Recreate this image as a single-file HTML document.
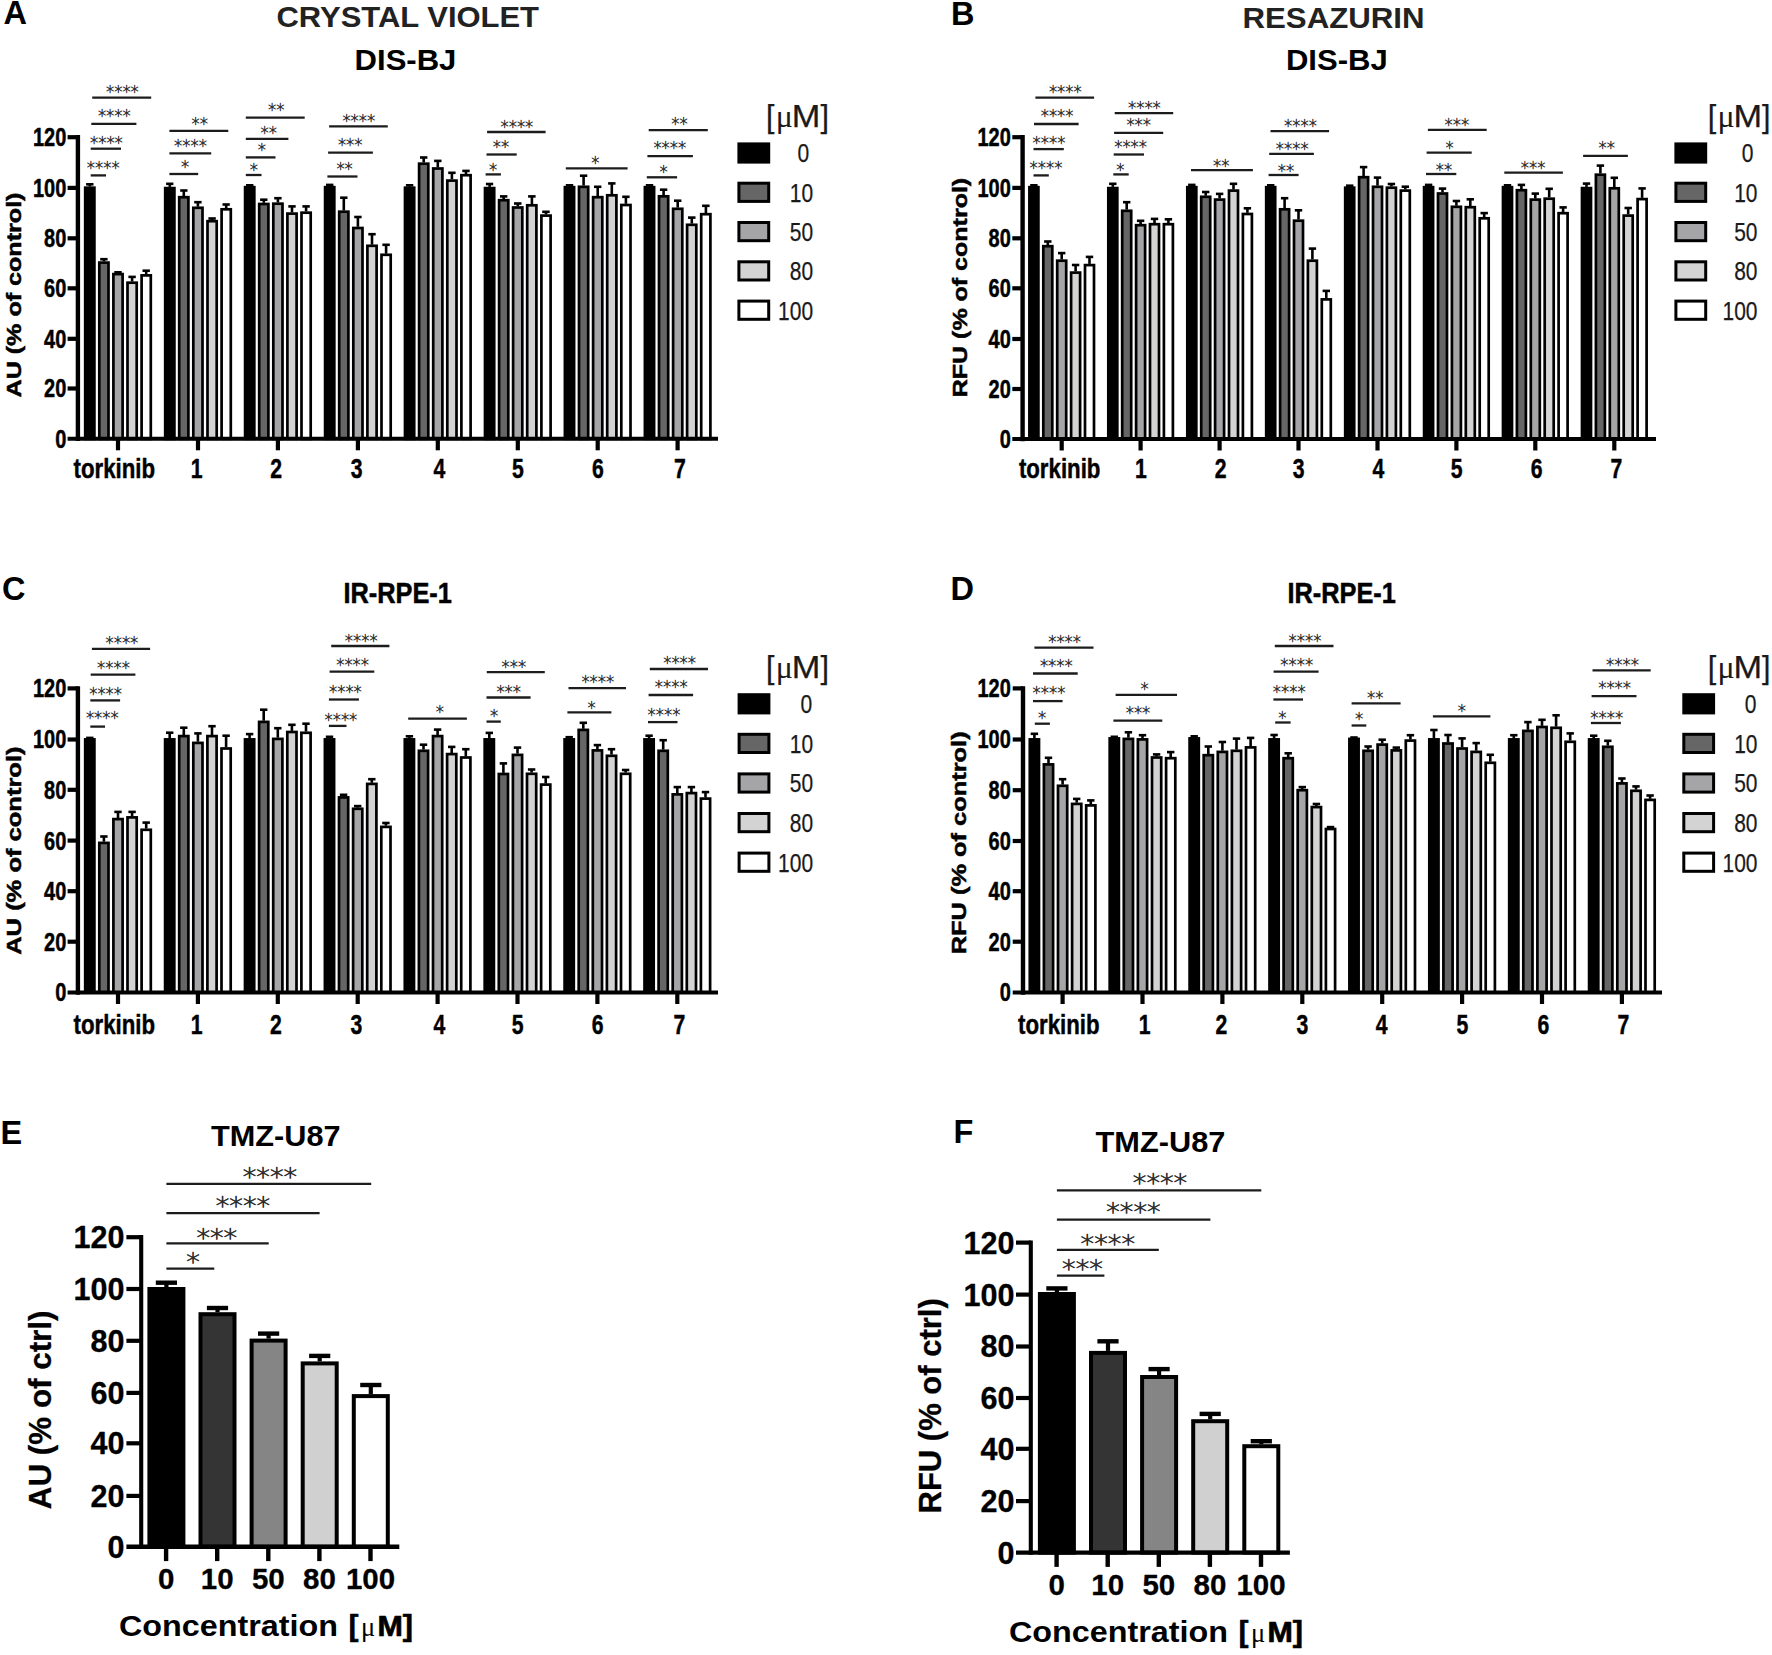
<!DOCTYPE html>
<html lang="en"><head><meta charset="utf-8"><title>Figure</title>
<style>
html,body{margin:0;padding:0;background:#fff;}
svg{display:block;font-family:"Liberation Sans",sans-serif;}
</style></head>
<body>
<svg width="1772" height="1655" viewBox="0 0 1772 1655">
<rect x="0" y="0" width="1772" height="1655" fill="#ffffff"/>
<line x1="89.8" y1="186.5" x2="89.8" y2="184.3" stroke="#000" stroke-width="2.6"/>
<line x1="86.1" y1="184.3" x2="93.5" y2="184.3" stroke="#000" stroke-width="2.6"/>
<rect x="85.2" y="187.7" width="9.2" height="251.2" fill="#000000" stroke="#000" stroke-width="2.7"/>
<line x1="103.9" y1="261.4" x2="103.9" y2="259.2" stroke="#000" stroke-width="2.6"/>
<line x1="100.2" y1="259.2" x2="107.6" y2="259.2" stroke="#000" stroke-width="2.6"/>
<rect x="99.3" y="262.6" width="9.2" height="176.3" fill="#666666" stroke="#000" stroke-width="2.7"/>
<line x1="118.0" y1="272.9" x2="118.0" y2="272.3" stroke="#000" stroke-width="2.6"/>
<line x1="114.3" y1="272.3" x2="121.7" y2="272.3" stroke="#000" stroke-width="2.6"/>
<rect x="113.4" y="274.1" width="9.2" height="164.8" fill="#a5a5a8" stroke="#000" stroke-width="2.7"/>
<line x1="132.1" y1="281.5" x2="132.1" y2="276.9" stroke="#000" stroke-width="2.6"/>
<line x1="128.4" y1="276.9" x2="135.8" y2="276.9" stroke="#000" stroke-width="2.6"/>
<rect x="127.5" y="282.7" width="9.2" height="156.2" fill="#d3d3d3" stroke="#000" stroke-width="2.7"/>
<line x1="146.2" y1="274.2" x2="146.2" y2="270.7" stroke="#000" stroke-width="2.6"/>
<line x1="142.5" y1="270.7" x2="149.9" y2="270.7" stroke="#000" stroke-width="2.6"/>
<rect x="141.6" y="275.4" width="9.2" height="163.5" fill="#ffffff" stroke="#000" stroke-width="2.7"/>
<line x1="169.8" y1="186.9" x2="169.8" y2="183.8" stroke="#000" stroke-width="2.6"/>
<line x1="166.1" y1="183.8" x2="173.4" y2="183.8" stroke="#000" stroke-width="2.6"/>
<rect x="165.2" y="188.1" width="9.2" height="250.8" fill="#000000" stroke="#000" stroke-width="2.7"/>
<line x1="183.8" y1="196.1" x2="183.8" y2="190.5" stroke="#000" stroke-width="2.6"/>
<line x1="180.2" y1="190.5" x2="187.5" y2="190.5" stroke="#000" stroke-width="2.6"/>
<rect x="179.2" y="197.2" width="9.2" height="241.6" fill="#666666" stroke="#000" stroke-width="2.7"/>
<line x1="197.9" y1="206.7" x2="197.9" y2="202.2" stroke="#000" stroke-width="2.6"/>
<line x1="194.2" y1="202.2" x2="201.6" y2="202.2" stroke="#000" stroke-width="2.6"/>
<rect x="193.3" y="207.8" width="9.2" height="231.0" fill="#a5a5a8" stroke="#000" stroke-width="2.7"/>
<line x1="212.1" y1="220.1" x2="212.1" y2="218.5" stroke="#000" stroke-width="2.6"/>
<line x1="208.4" y1="218.5" x2="215.8" y2="218.5" stroke="#000" stroke-width="2.6"/>
<rect x="207.5" y="221.2" width="9.2" height="217.6" fill="#d3d3d3" stroke="#000" stroke-width="2.7"/>
<line x1="226.2" y1="208.2" x2="226.2" y2="204.5" stroke="#000" stroke-width="2.6"/>
<line x1="222.5" y1="204.5" x2="229.8" y2="204.5" stroke="#000" stroke-width="2.6"/>
<rect x="221.6" y="209.3" width="9.2" height="229.5" fill="#ffffff" stroke="#000" stroke-width="2.7"/>
<line x1="249.7" y1="186.1" x2="249.7" y2="185.3" stroke="#000" stroke-width="2.6"/>
<line x1="246.0" y1="185.3" x2="253.4" y2="185.3" stroke="#000" stroke-width="2.6"/>
<rect x="245.1" y="187.2" width="9.2" height="251.6" fill="#000000" stroke="#000" stroke-width="2.7"/>
<line x1="263.8" y1="202.8" x2="263.8" y2="199.7" stroke="#000" stroke-width="2.6"/>
<line x1="260.1" y1="199.7" x2="267.5" y2="199.7" stroke="#000" stroke-width="2.6"/>
<rect x="259.2" y="204.0" width="9.2" height="234.8" fill="#666666" stroke="#000" stroke-width="2.7"/>
<line x1="277.9" y1="202.5" x2="277.9" y2="198.2" stroke="#000" stroke-width="2.6"/>
<line x1="274.2" y1="198.2" x2="281.6" y2="198.2" stroke="#000" stroke-width="2.6"/>
<rect x="273.3" y="203.7" width="9.2" height="235.2" fill="#a5a5a8" stroke="#000" stroke-width="2.7"/>
<line x1="292.0" y1="212.4" x2="292.0" y2="206.4" stroke="#000" stroke-width="2.6"/>
<line x1="288.3" y1="206.4" x2="295.7" y2="206.4" stroke="#000" stroke-width="2.6"/>
<rect x="287.4" y="213.6" width="9.2" height="225.2" fill="#d3d3d3" stroke="#000" stroke-width="2.7"/>
<line x1="306.1" y1="211.5" x2="306.1" y2="206.4" stroke="#000" stroke-width="2.6"/>
<line x1="302.4" y1="206.4" x2="309.8" y2="206.4" stroke="#000" stroke-width="2.6"/>
<rect x="301.5" y="212.7" width="9.2" height="226.2" fill="#ffffff" stroke="#000" stroke-width="2.7"/>
<line x1="329.7" y1="186.1" x2="329.7" y2="184.9" stroke="#000" stroke-width="2.6"/>
<line x1="326.0" y1="184.9" x2="333.4" y2="184.9" stroke="#000" stroke-width="2.6"/>
<rect x="325.1" y="187.2" width="9.2" height="251.6" fill="#000000" stroke="#000" stroke-width="2.7"/>
<line x1="343.8" y1="210.5" x2="343.8" y2="197.7" stroke="#000" stroke-width="2.6"/>
<line x1="340.1" y1="197.7" x2="347.5" y2="197.7" stroke="#000" stroke-width="2.6"/>
<rect x="339.2" y="211.7" width="9.2" height="227.2" fill="#666666" stroke="#000" stroke-width="2.7"/>
<line x1="357.9" y1="226.8" x2="357.9" y2="217.0" stroke="#000" stroke-width="2.6"/>
<line x1="354.2" y1="217.0" x2="361.6" y2="217.0" stroke="#000" stroke-width="2.6"/>
<rect x="353.3" y="228.0" width="9.2" height="210.8" fill="#a5a5a8" stroke="#000" stroke-width="2.7"/>
<line x1="372.0" y1="244.7" x2="372.0" y2="234.2" stroke="#000" stroke-width="2.6"/>
<line x1="368.3" y1="234.2" x2="375.7" y2="234.2" stroke="#000" stroke-width="2.6"/>
<rect x="367.4" y="245.8" width="9.2" height="193.0" fill="#d3d3d3" stroke="#000" stroke-width="2.7"/>
<line x1="386.1" y1="253.7" x2="386.1" y2="244.8" stroke="#000" stroke-width="2.6"/>
<line x1="382.4" y1="244.8" x2="389.8" y2="244.8" stroke="#000" stroke-width="2.6"/>
<rect x="381.5" y="254.8" width="9.2" height="184.0" fill="#ffffff" stroke="#000" stroke-width="2.7"/>
<line x1="409.6" y1="186.5" x2="409.6" y2="185.3" stroke="#000" stroke-width="2.6"/>
<line x1="405.9" y1="185.3" x2="413.3" y2="185.3" stroke="#000" stroke-width="2.6"/>
<rect x="405.0" y="187.7" width="9.2" height="251.2" fill="#000000" stroke="#000" stroke-width="2.7"/>
<line x1="423.7" y1="162.5" x2="423.7" y2="157.5" stroke="#000" stroke-width="2.6"/>
<line x1="420.0" y1="157.5" x2="427.4" y2="157.5" stroke="#000" stroke-width="2.6"/>
<rect x="419.1" y="163.7" width="9.2" height="275.1" fill="#666666" stroke="#000" stroke-width="2.7"/>
<line x1="437.8" y1="167.3" x2="437.8" y2="160.9" stroke="#000" stroke-width="2.6"/>
<line x1="434.1" y1="160.9" x2="441.5" y2="160.9" stroke="#000" stroke-width="2.6"/>
<rect x="433.2" y="168.5" width="9.2" height="270.3" fill="#a5a5a8" stroke="#000" stroke-width="2.7"/>
<line x1="451.9" y1="179.4" x2="451.9" y2="172.8" stroke="#000" stroke-width="2.6"/>
<line x1="448.2" y1="172.8" x2="455.6" y2="172.8" stroke="#000" stroke-width="2.6"/>
<rect x="447.3" y="180.6" width="9.2" height="258.2" fill="#d3d3d3" stroke="#000" stroke-width="2.7"/>
<line x1="466.0" y1="174.0" x2="466.0" y2="170.9" stroke="#000" stroke-width="2.6"/>
<line x1="462.3" y1="170.9" x2="469.7" y2="170.9" stroke="#000" stroke-width="2.6"/>
<rect x="461.4" y="175.2" width="9.2" height="263.6" fill="#ffffff" stroke="#000" stroke-width="2.7"/>
<line x1="489.6" y1="186.9" x2="489.6" y2="184.0" stroke="#000" stroke-width="2.6"/>
<line x1="485.9" y1="184.0" x2="493.2" y2="184.0" stroke="#000" stroke-width="2.6"/>
<rect x="485.0" y="188.1" width="9.2" height="250.8" fill="#000000" stroke="#000" stroke-width="2.7"/>
<line x1="503.7" y1="199.0" x2="503.7" y2="196.4" stroke="#000" stroke-width="2.6"/>
<line x1="500.0" y1="196.4" x2="507.4" y2="196.4" stroke="#000" stroke-width="2.6"/>
<rect x="499.1" y="200.2" width="9.2" height="238.7" fill="#666666" stroke="#000" stroke-width="2.7"/>
<line x1="517.8" y1="206.3" x2="517.8" y2="203.5" stroke="#000" stroke-width="2.6"/>
<line x1="514.0" y1="203.5" x2="521.5" y2="203.5" stroke="#000" stroke-width="2.6"/>
<rect x="513.1" y="207.5" width="9.2" height="231.3" fill="#a5a5a8" stroke="#000" stroke-width="2.7"/>
<line x1="531.9" y1="204.2" x2="531.9" y2="196.4" stroke="#000" stroke-width="2.6"/>
<line x1="528.1" y1="196.4" x2="535.6" y2="196.4" stroke="#000" stroke-width="2.6"/>
<rect x="527.2" y="205.3" width="9.2" height="233.5" fill="#d3d3d3" stroke="#000" stroke-width="2.7"/>
<line x1="546.0" y1="214.4" x2="546.0" y2="211.8" stroke="#000" stroke-width="2.6"/>
<line x1="542.2" y1="211.8" x2="549.7" y2="211.8" stroke="#000" stroke-width="2.6"/>
<rect x="541.4" y="215.6" width="9.2" height="223.2" fill="#ffffff" stroke="#000" stroke-width="2.7"/>
<line x1="569.5" y1="186.1" x2="569.5" y2="185.3" stroke="#000" stroke-width="2.6"/>
<line x1="565.8" y1="185.3" x2="573.2" y2="185.3" stroke="#000" stroke-width="2.6"/>
<rect x="564.9" y="187.2" width="9.2" height="251.6" fill="#000000" stroke="#000" stroke-width="2.7"/>
<line x1="583.6" y1="185.6" x2="583.6" y2="175.7" stroke="#000" stroke-width="2.6"/>
<line x1="579.9" y1="175.7" x2="587.3" y2="175.7" stroke="#000" stroke-width="2.6"/>
<rect x="579.0" y="186.8" width="9.2" height="252.1" fill="#666666" stroke="#000" stroke-width="2.7"/>
<line x1="597.7" y1="196.1" x2="597.7" y2="186.8" stroke="#000" stroke-width="2.6"/>
<line x1="594.0" y1="186.8" x2="601.4" y2="186.8" stroke="#000" stroke-width="2.6"/>
<rect x="593.1" y="197.2" width="9.2" height="241.6" fill="#a5a5a8" stroke="#000" stroke-width="2.7"/>
<line x1="611.8" y1="194.2" x2="611.8" y2="183.4" stroke="#000" stroke-width="2.6"/>
<line x1="608.1" y1="183.4" x2="615.5" y2="183.4" stroke="#000" stroke-width="2.6"/>
<rect x="607.2" y="195.3" width="9.2" height="243.5" fill="#d3d3d3" stroke="#000" stroke-width="2.7"/>
<line x1="625.9" y1="203.8" x2="625.9" y2="196.8" stroke="#000" stroke-width="2.6"/>
<line x1="622.2" y1="196.8" x2="629.6" y2="196.8" stroke="#000" stroke-width="2.6"/>
<rect x="621.3" y="205.0" width="9.2" height="233.8" fill="#ffffff" stroke="#000" stroke-width="2.7"/>
<line x1="649.5" y1="186.1" x2="649.5" y2="185.3" stroke="#000" stroke-width="2.6"/>
<line x1="645.8" y1="185.3" x2="653.2" y2="185.3" stroke="#000" stroke-width="2.6"/>
<rect x="644.9" y="187.2" width="9.2" height="251.6" fill="#000000" stroke="#000" stroke-width="2.7"/>
<line x1="663.6" y1="195.2" x2="663.6" y2="189.7" stroke="#000" stroke-width="2.6"/>
<line x1="659.9" y1="189.7" x2="667.3" y2="189.7" stroke="#000" stroke-width="2.6"/>
<rect x="659.0" y="196.3" width="9.2" height="242.5" fill="#666666" stroke="#000" stroke-width="2.7"/>
<line x1="677.7" y1="207.6" x2="677.7" y2="200.7" stroke="#000" stroke-width="2.6"/>
<line x1="674.0" y1="200.7" x2="681.4" y2="200.7" stroke="#000" stroke-width="2.6"/>
<rect x="673.1" y="208.8" width="9.2" height="230.1" fill="#a5a5a8" stroke="#000" stroke-width="2.7"/>
<line x1="691.8" y1="223.6" x2="691.8" y2="217.6" stroke="#000" stroke-width="2.6"/>
<line x1="688.0" y1="217.6" x2="695.5" y2="217.6" stroke="#000" stroke-width="2.6"/>
<rect x="687.1" y="224.8" width="9.2" height="214.1" fill="#d3d3d3" stroke="#000" stroke-width="2.7"/>
<line x1="705.9" y1="213.0" x2="705.9" y2="205.8" stroke="#000" stroke-width="2.6"/>
<line x1="702.1" y1="205.8" x2="709.6" y2="205.8" stroke="#000" stroke-width="2.6"/>
<rect x="701.2" y="214.2" width="9.2" height="224.7" fill="#ffffff" stroke="#000" stroke-width="2.7"/>
<line x1="77.9" y1="135.0" x2="77.9" y2="441.0" stroke="#000" stroke-width="4.4"/>
<line x1="67.6" y1="438.8" x2="718.0" y2="438.8" stroke="#000" stroke-width="4.1"/>
<text x="55.2" y="447.7" font-size="25.5" font-weight="bold" fill="#000" text-anchor="start" stroke="#000" stroke-width="0.5" stroke-linejoin="round" textLength="11.1" lengthAdjust="spacingAndGlyphs" >0</text>
<line x1="67.6" y1="388.5" x2="77.9" y2="388.5" stroke="#000" stroke-width="4.2"/>
<text x="44.1" y="397.4" font-size="25.5" font-weight="bold" fill="#000" text-anchor="start" stroke="#000" stroke-width="0.5" stroke-linejoin="round" textLength="22.2" lengthAdjust="spacingAndGlyphs" >20</text>
<line x1="67.6" y1="338.8" x2="77.9" y2="338.8" stroke="#000" stroke-width="4.2"/>
<text x="44.1" y="347.7" font-size="25.5" font-weight="bold" fill="#000" text-anchor="start" stroke="#000" stroke-width="0.5" stroke-linejoin="round" textLength="22.2" lengthAdjust="spacingAndGlyphs" >40</text>
<line x1="67.6" y1="288.3" x2="77.9" y2="288.3" stroke="#000" stroke-width="4.2"/>
<text x="44.1" y="297.2" font-size="25.5" font-weight="bold" fill="#000" text-anchor="start" stroke="#000" stroke-width="0.5" stroke-linejoin="round" textLength="22.2" lengthAdjust="spacingAndGlyphs" >60</text>
<line x1="67.6" y1="238.3" x2="77.9" y2="238.3" stroke="#000" stroke-width="4.2"/>
<text x="44.1" y="247.2" font-size="25.5" font-weight="bold" fill="#000" text-anchor="start" stroke="#000" stroke-width="0.5" stroke-linejoin="round" textLength="22.2" lengthAdjust="spacingAndGlyphs" >80</text>
<line x1="67.6" y1="187.9" x2="77.9" y2="187.9" stroke="#000" stroke-width="4.2"/>
<text x="33.0" y="196.8" font-size="25.5" font-weight="bold" fill="#000" text-anchor="start" stroke="#000" stroke-width="0.5" stroke-linejoin="round" textLength="33.3" lengthAdjust="spacingAndGlyphs" >100</text>
<line x1="67.6" y1="137.2" x2="77.9" y2="137.2" stroke="#000" stroke-width="4.2"/>
<text x="33.0" y="146.1" font-size="25.5" font-weight="bold" fill="#000" text-anchor="start" stroke="#000" stroke-width="0.5" stroke-linejoin="round" textLength="33.3" lengthAdjust="spacingAndGlyphs" >120</text>
<line x1="118.0" y1="438.8" x2="118.0" y2="450.3" stroke="#000" stroke-width="4.2"/>
<text x="73.5" y="478.2" font-size="27.5" font-weight="bold" fill="#000" text-anchor="start" stroke="#000" stroke-width="0.45" stroke-linejoin="round" textLength="81.5" lengthAdjust="spacingAndGlyphs" >torkinib</text>
<line x1="198.0" y1="438.8" x2="198.0" y2="450.3" stroke="#000" stroke-width="4.2"/>
<text x="190.8" y="478.2" font-size="27.6" font-weight="bold" fill="#000" text-anchor="start" stroke="#000" stroke-width="0.45" stroke-linejoin="round" textLength="11.8" lengthAdjust="spacingAndGlyphs" >1</text>
<line x1="277.9" y1="438.8" x2="277.9" y2="450.3" stroke="#000" stroke-width="4.2"/>
<text x="270.2" y="478.2" font-size="27.6" font-weight="bold" fill="#000" text-anchor="start" stroke="#000" stroke-width="0.45" stroke-linejoin="round" textLength="11.8" lengthAdjust="spacingAndGlyphs" >2</text>
<line x1="357.9" y1="438.8" x2="357.9" y2="450.3" stroke="#000" stroke-width="4.2"/>
<text x="350.7" y="478.2" font-size="27.6" font-weight="bold" fill="#000" text-anchor="start" stroke="#000" stroke-width="0.45" stroke-linejoin="round" textLength="11.8" lengthAdjust="spacingAndGlyphs" >3</text>
<line x1="437.8" y1="438.8" x2="437.8" y2="450.3" stroke="#000" stroke-width="4.2"/>
<text x="433.6" y="478.2" font-size="27.6" font-weight="bold" fill="#000" text-anchor="start" stroke="#000" stroke-width="0.45" stroke-linejoin="round" textLength="11.8" lengthAdjust="spacingAndGlyphs" >4</text>
<line x1="517.8" y1="438.8" x2="517.8" y2="450.3" stroke="#000" stroke-width="4.2"/>
<text x="512.0" y="478.2" font-size="27.6" font-weight="bold" fill="#000" text-anchor="start" stroke="#000" stroke-width="0.45" stroke-linejoin="round" textLength="11.8" lengthAdjust="spacingAndGlyphs" >5</text>
<line x1="597.7" y1="438.8" x2="597.7" y2="450.3" stroke="#000" stroke-width="4.2"/>
<text x="592.0" y="478.2" font-size="27.6" font-weight="bold" fill="#000" text-anchor="start" stroke="#000" stroke-width="0.45" stroke-linejoin="round" textLength="11.8" lengthAdjust="spacingAndGlyphs" >6</text>
<line x1="677.6" y1="438.8" x2="677.6" y2="450.3" stroke="#000" stroke-width="4.2"/>
<text x="673.9" y="478.2" font-size="27.6" font-weight="bold" fill="#000" text-anchor="start" stroke="#000" stroke-width="0.45" stroke-linejoin="round" textLength="11.8" lengthAdjust="spacingAndGlyphs" >7</text>
<line x1="90.7" y1="175.4" x2="106.0" y2="175.4" stroke="#1c1c1c" stroke-width="2.3"/>
<text x="86.8" y="173.6" font-size="18.2" font-weight="200" fill="#2e2e2e" text-anchor="start" stroke="#2e2e2e" stroke-width="0.55" stroke-linejoin="round" textLength="32.8" lengthAdjust="spacingAndGlyphs" font-family="DejaVu Sans, Liberation Sans, sans-serif">****</text>
<line x1="90.7" y1="148.7" x2="121.0" y2="148.7" stroke="#1c1c1c" stroke-width="2.3"/>
<text x="90.0" y="148.7" font-size="18.2" font-weight="200" fill="#2e2e2e" text-anchor="start" stroke="#2e2e2e" stroke-width="0.55" stroke-linejoin="round" textLength="32.8" lengthAdjust="spacingAndGlyphs" font-family="DejaVu Sans, Liberation Sans, sans-serif">****</text>
<line x1="91.3" y1="123.8" x2="136.4" y2="123.8" stroke="#1c1c1c" stroke-width="2.3"/>
<text x="97.9" y="122.2" font-size="18.2" font-weight="200" fill="#2e2e2e" text-anchor="start" stroke="#2e2e2e" stroke-width="0.55" stroke-linejoin="round" textLength="32.8" lengthAdjust="spacingAndGlyphs" font-family="DejaVu Sans, Liberation Sans, sans-serif">****</text>
<line x1="92.2" y1="97.7" x2="151.2" y2="97.7" stroke="#1c1c1c" stroke-width="2.3"/>
<text x="106.0" y="98.2" font-size="18.2" font-weight="200" fill="#2e2e2e" text-anchor="start" stroke="#2e2e2e" stroke-width="0.55" stroke-linejoin="round" textLength="32.8" lengthAdjust="spacingAndGlyphs" font-family="DejaVu Sans, Liberation Sans, sans-serif">****</text>
<line x1="169.4" y1="174.0" x2="198.2" y2="174.0" stroke="#1c1c1c" stroke-width="2.3"/>
<text x="181.0" y="173.0" font-size="18.2" font-weight="200" fill="#2e2e2e" text-anchor="start" stroke="#2e2e2e" stroke-width="0.55" stroke-linejoin="round" textLength="8.2" lengthAdjust="spacingAndGlyphs" font-family="DejaVu Sans, Liberation Sans, sans-serif">*</text>
<line x1="169.4" y1="153.3" x2="211.2" y2="153.3" stroke="#1c1c1c" stroke-width="2.3"/>
<text x="174.1" y="152.1" font-size="18.2" font-weight="200" fill="#2e2e2e" text-anchor="start" stroke="#2e2e2e" stroke-width="0.55" stroke-linejoin="round" textLength="32.8" lengthAdjust="spacingAndGlyphs" font-family="DejaVu Sans, Liberation Sans, sans-serif">****</text>
<line x1="169.4" y1="130.9" x2="228.3" y2="130.9" stroke="#1c1c1c" stroke-width="2.3"/>
<text x="191.5" y="129.5" font-size="18.2" font-weight="200" fill="#2e2e2e" text-anchor="start" stroke="#2e2e2e" stroke-width="0.55" stroke-linejoin="round" textLength="16.4" lengthAdjust="spacingAndGlyphs" font-family="DejaVu Sans, Liberation Sans, sans-serif">**</text>
<line x1="245.8" y1="175.0" x2="261.5" y2="175.0" stroke="#1c1c1c" stroke-width="2.3"/>
<text x="249.8" y="176.1" font-size="18.2" font-weight="200" fill="#2e2e2e" text-anchor="start" stroke="#2e2e2e" stroke-width="0.55" stroke-linejoin="round" textLength="8.2" lengthAdjust="spacingAndGlyphs" font-family="DejaVu Sans, Liberation Sans, sans-serif">*</text>
<line x1="245.8" y1="157.4" x2="275.5" y2="157.4" stroke="#1c1c1c" stroke-width="2.3"/>
<text x="257.8" y="156.3" font-size="18.2" font-weight="200" fill="#2e2e2e" text-anchor="start" stroke="#2e2e2e" stroke-width="0.55" stroke-linejoin="round" textLength="8.2" lengthAdjust="spacingAndGlyphs" font-family="DejaVu Sans, Liberation Sans, sans-serif">*</text>
<line x1="245.8" y1="138.9" x2="288.4" y2="138.9" stroke="#1c1c1c" stroke-width="2.3"/>
<text x="260.6" y="138.5" font-size="18.2" font-weight="200" fill="#2e2e2e" text-anchor="start" stroke="#2e2e2e" stroke-width="0.55" stroke-linejoin="round" textLength="16.4" lengthAdjust="spacingAndGlyphs" font-family="DejaVu Sans, Liberation Sans, sans-serif">**</text>
<line x1="245.8" y1="117.6" x2="304.7" y2="117.6" stroke="#1c1c1c" stroke-width="2.3"/>
<text x="268.1" y="115.6" font-size="18.2" font-weight="200" fill="#2e2e2e" text-anchor="start" stroke="#2e2e2e" stroke-width="0.55" stroke-linejoin="round" textLength="16.4" lengthAdjust="spacingAndGlyphs" font-family="DejaVu Sans, Liberation Sans, sans-serif">**</text>
<line x1="327.4" y1="176.5" x2="357.5" y2="176.5" stroke="#1c1c1c" stroke-width="2.3"/>
<text x="336.4" y="174.6" font-size="18.2" font-weight="200" fill="#2e2e2e" text-anchor="start" stroke="#2e2e2e" stroke-width="0.55" stroke-linejoin="round" textLength="16.4" lengthAdjust="spacingAndGlyphs" font-family="DejaVu Sans, Liberation Sans, sans-serif">**</text>
<line x1="328.1" y1="152.6" x2="372.9" y2="152.6" stroke="#1c1c1c" stroke-width="2.3"/>
<text x="337.9" y="151.0" font-size="18.2" font-weight="200" fill="#2e2e2e" text-anchor="start" stroke="#2e2e2e" stroke-width="0.55" stroke-linejoin="round" textLength="24.6" lengthAdjust="spacingAndGlyphs" font-family="DejaVu Sans, Liberation Sans, sans-serif">***</text>
<line x1="329.1" y1="126.4" x2="387.8" y2="126.4" stroke="#1c1c1c" stroke-width="2.3"/>
<text x="342.4" y="127.2" font-size="18.2" font-weight="200" fill="#2e2e2e" text-anchor="start" stroke="#2e2e2e" stroke-width="0.55" stroke-linejoin="round" textLength="32.8" lengthAdjust="spacingAndGlyphs" font-family="DejaVu Sans, Liberation Sans, sans-serif">****</text>
<line x1="485.6" y1="174.4" x2="500.9" y2="174.4" stroke="#1c1c1c" stroke-width="2.3"/>
<text x="489.1" y="175.5" font-size="18.2" font-weight="200" fill="#2e2e2e" text-anchor="start" stroke="#2e2e2e" stroke-width="0.55" stroke-linejoin="round" textLength="8.2" lengthAdjust="spacingAndGlyphs" font-family="DejaVu Sans, Liberation Sans, sans-serif">*</text>
<line x1="486.5" y1="154.5" x2="516.7" y2="154.5" stroke="#1c1c1c" stroke-width="2.3"/>
<text x="492.7" y="153.1" font-size="18.2" font-weight="200" fill="#2e2e2e" text-anchor="start" stroke="#2e2e2e" stroke-width="0.55" stroke-linejoin="round" textLength="16.4" lengthAdjust="spacingAndGlyphs" font-family="DejaVu Sans, Liberation Sans, sans-serif">**</text>
<line x1="487.1" y1="132.0" x2="545.6" y2="132.0" stroke="#1c1c1c" stroke-width="2.3"/>
<text x="500.5" y="132.7" font-size="18.2" font-weight="200" fill="#2e2e2e" text-anchor="start" stroke="#2e2e2e" stroke-width="0.55" stroke-linejoin="round" textLength="32.8" lengthAdjust="spacingAndGlyphs" font-family="DejaVu Sans, Liberation Sans, sans-serif">****</text>
<line x1="565.8" y1="168.3" x2="627.6" y2="168.3" stroke="#1c1c1c" stroke-width="2.3"/>
<text x="591.3" y="169.2" font-size="18.2" font-weight="200" fill="#2e2e2e" text-anchor="start" stroke="#2e2e2e" stroke-width="0.55" stroke-linejoin="round" textLength="8.2" lengthAdjust="spacingAndGlyphs" font-family="DejaVu Sans, Liberation Sans, sans-serif">*</text>
<line x1="646.8" y1="177.3" x2="677.1" y2="177.3" stroke="#1c1c1c" stroke-width="2.3"/>
<text x="659.6" y="177.8" font-size="18.2" font-weight="200" fill="#2e2e2e" text-anchor="start" stroke="#2e2e2e" stroke-width="0.55" stroke-linejoin="round" textLength="8.2" lengthAdjust="spacingAndGlyphs" font-family="DejaVu Sans, Liberation Sans, sans-serif">*</text>
<line x1="647.4" y1="156.2" x2="692.9" y2="156.2" stroke="#1c1c1c" stroke-width="2.3"/>
<text x="653.4" y="153.8" font-size="18.2" font-weight="200" fill="#2e2e2e" text-anchor="start" stroke="#2e2e2e" stroke-width="0.55" stroke-linejoin="round" textLength="32.8" lengthAdjust="spacingAndGlyphs" font-family="DejaVu Sans, Liberation Sans, sans-serif">****</text>
<line x1="648.7" y1="130.1" x2="707.8" y2="130.1" stroke="#1c1c1c" stroke-width="2.3"/>
<text x="671.2" y="130.4" font-size="18.2" font-weight="200" fill="#2e2e2e" text-anchor="start" stroke="#2e2e2e" stroke-width="0.55" stroke-linejoin="round" textLength="16.4" lengthAdjust="spacingAndGlyphs" font-family="DejaVu Sans, Liberation Sans, sans-serif">**</text>
<text transform="translate(21.4 397.5) rotate(-90)" font-size="20.5" font-weight="bold" fill="#000" stroke="#000" stroke-width="0.5" textLength="205.0" lengthAdjust="spacingAndGlyphs">AU (% of control)</text>
<rect x="738.9" y="143.9" width="29.8" height="18.2" fill="#000000" stroke="#000" stroke-width="3"/>
<text x="797.4" y="162.3" font-size="26" font-weight="normal" fill="#1a1a1a" text-anchor="start" stroke="#1a1a1a" stroke-width="0.25" stroke-linejoin="round" textLength="11.7" lengthAdjust="spacingAndGlyphs" >0</text>
<rect x="738.9" y="183.2" width="29.8" height="18.2" fill="#666666" stroke="#000" stroke-width="3"/>
<text x="789.8" y="201.6" font-size="26" font-weight="normal" fill="#1a1a1a" text-anchor="start" stroke="#1a1a1a" stroke-width="0.25" stroke-linejoin="round" textLength="23.3" lengthAdjust="spacingAndGlyphs" >10</text>
<rect x="738.9" y="222.5" width="29.8" height="18.2" fill="#a5a5a8" stroke="#000" stroke-width="3"/>
<text x="789.8" y="240.9" font-size="26" font-weight="normal" fill="#1a1a1a" text-anchor="start" stroke="#1a1a1a" stroke-width="0.25" stroke-linejoin="round" textLength="23.3" lengthAdjust="spacingAndGlyphs" >50</text>
<rect x="738.9" y="261.8" width="29.8" height="18.2" fill="#d3d3d3" stroke="#000" stroke-width="3"/>
<text x="789.8" y="280.2" font-size="26" font-weight="normal" fill="#1a1a1a" text-anchor="start" stroke="#1a1a1a" stroke-width="0.25" stroke-linejoin="round" textLength="23.3" lengthAdjust="spacingAndGlyphs" >80</text>
<rect x="738.9" y="301.1" width="29.8" height="18.2" fill="#ffffff" stroke="#000" stroke-width="3"/>
<text x="778.1" y="319.5" font-size="26" font-weight="normal" fill="#1a1a1a" text-anchor="start" stroke="#1a1a1a" stroke-width="0.25" stroke-linejoin="round" textLength="35.0" lengthAdjust="spacingAndGlyphs" >100</text>
<text x="766.1" y="127.1" font-size="30.5" font-weight="normal" fill="#1a1a1a" text-anchor="start" stroke="#1a1a1a" stroke-width="0.25" stroke-linejoin="round" >[</text>
<text x="775.7" y="127.1" font-size="32" font-weight="normal" fill="#1a1a1a" text-anchor="start" font-family="Liberation Serif, DejaVu Serif, serif">μ</text>
<text x="791.7" y="127.1" font-size="30.5" font-weight="normal" fill="#1a1a1a" text-anchor="start" stroke="#1a1a1a" stroke-width="0.25" stroke-linejoin="round" textLength="28.6" lengthAdjust="spacingAndGlyphs" >M</text>
<text x="820.4" y="127.1" font-size="30.5" font-weight="normal" fill="#1a1a1a" text-anchor="start" stroke="#1a1a1a" stroke-width="0.25" stroke-linejoin="round" >]</text>
<line x1="1033.9" y1="186.1" x2="1033.9" y2="185.3" stroke="#000" stroke-width="2.6"/>
<line x1="1030.2" y1="185.3" x2="1037.6" y2="185.3" stroke="#000" stroke-width="2.6"/>
<rect x="1029.4" y="187.2" width="9.0" height="251.8" fill="#000000" stroke="#000" stroke-width="2.7"/>
<line x1="1047.8" y1="245.1" x2="1047.8" y2="241.5" stroke="#000" stroke-width="2.6"/>
<line x1="1044.1" y1="241.5" x2="1051.5" y2="241.5" stroke="#000" stroke-width="2.6"/>
<rect x="1043.3" y="246.2" width="9.0" height="192.8" fill="#666666" stroke="#000" stroke-width="2.7"/>
<line x1="1061.7" y1="259.5" x2="1061.7" y2="253.1" stroke="#000" stroke-width="2.6"/>
<line x1="1058.0" y1="253.1" x2="1065.4" y2="253.1" stroke="#000" stroke-width="2.6"/>
<rect x="1057.2" y="260.7" width="9.0" height="178.3" fill="#a5a5a8" stroke="#000" stroke-width="2.7"/>
<line x1="1075.6" y1="271.4" x2="1075.6" y2="265.0" stroke="#000" stroke-width="2.6"/>
<line x1="1071.9" y1="265.0" x2="1079.3" y2="265.0" stroke="#000" stroke-width="2.6"/>
<rect x="1071.1" y="272.6" width="9.0" height="166.5" fill="#d3d3d3" stroke="#000" stroke-width="2.7"/>
<line x1="1089.5" y1="263.9" x2="1089.5" y2="256.9" stroke="#000" stroke-width="2.6"/>
<line x1="1085.8" y1="256.9" x2="1093.2" y2="256.9" stroke="#000" stroke-width="2.6"/>
<rect x="1085.0" y="265.1" width="9.0" height="174.0" fill="#ffffff" stroke="#000" stroke-width="2.7"/>
<line x1="1112.8" y1="186.9" x2="1112.8" y2="183.8" stroke="#000" stroke-width="2.6"/>
<line x1="1109.1" y1="183.8" x2="1116.5" y2="183.8" stroke="#000" stroke-width="2.6"/>
<rect x="1108.3" y="188.1" width="9.0" height="250.9" fill="#000000" stroke="#000" stroke-width="2.7"/>
<line x1="1126.7" y1="209.6" x2="1126.7" y2="202.2" stroke="#000" stroke-width="2.6"/>
<line x1="1123.0" y1="202.2" x2="1130.4" y2="202.2" stroke="#000" stroke-width="2.6"/>
<rect x="1122.2" y="210.8" width="9.0" height="228.2" fill="#666666" stroke="#000" stroke-width="2.7"/>
<line x1="1140.6" y1="224.0" x2="1140.6" y2="220.8" stroke="#000" stroke-width="2.6"/>
<line x1="1136.9" y1="220.8" x2="1144.3" y2="220.8" stroke="#000" stroke-width="2.6"/>
<rect x="1136.1" y="225.2" width="9.0" height="213.8" fill="#a5a5a8" stroke="#000" stroke-width="2.7"/>
<line x1="1154.5" y1="223.0" x2="1154.5" y2="218.9" stroke="#000" stroke-width="2.6"/>
<line x1="1150.8" y1="218.9" x2="1158.2" y2="218.9" stroke="#000" stroke-width="2.6"/>
<rect x="1150.0" y="224.2" width="9.0" height="214.8" fill="#d3d3d3" stroke="#000" stroke-width="2.7"/>
<line x1="1168.4" y1="223.0" x2="1168.4" y2="219.3" stroke="#000" stroke-width="2.6"/>
<line x1="1164.7" y1="219.3" x2="1172.1" y2="219.3" stroke="#000" stroke-width="2.6"/>
<rect x="1163.9" y="224.2" width="9.0" height="214.8" fill="#ffffff" stroke="#000" stroke-width="2.7"/>
<line x1="1191.8" y1="186.1" x2="1191.8" y2="184.9" stroke="#000" stroke-width="2.6"/>
<line x1="1188.1" y1="184.9" x2="1195.5" y2="184.9" stroke="#000" stroke-width="2.6"/>
<rect x="1187.3" y="187.2" width="9.0" height="251.8" fill="#000000" stroke="#000" stroke-width="2.7"/>
<line x1="1205.7" y1="195.7" x2="1205.7" y2="192.0" stroke="#000" stroke-width="2.6"/>
<line x1="1202.0" y1="192.0" x2="1209.4" y2="192.0" stroke="#000" stroke-width="2.6"/>
<rect x="1201.2" y="196.8" width="9.0" height="242.2" fill="#666666" stroke="#000" stroke-width="2.7"/>
<line x1="1219.6" y1="198.4" x2="1219.6" y2="193.9" stroke="#000" stroke-width="2.6"/>
<line x1="1215.9" y1="193.9" x2="1223.3" y2="193.9" stroke="#000" stroke-width="2.6"/>
<rect x="1215.1" y="199.6" width="9.0" height="239.4" fill="#a5a5a8" stroke="#000" stroke-width="2.7"/>
<line x1="1233.5" y1="189.4" x2="1233.5" y2="183.8" stroke="#000" stroke-width="2.6"/>
<line x1="1229.8" y1="183.8" x2="1237.2" y2="183.8" stroke="#000" stroke-width="2.6"/>
<rect x="1229.0" y="190.6" width="9.0" height="248.4" fill="#d3d3d3" stroke="#000" stroke-width="2.7"/>
<line x1="1247.4" y1="212.8" x2="1247.4" y2="208.3" stroke="#000" stroke-width="2.6"/>
<line x1="1243.7" y1="208.3" x2="1251.1" y2="208.3" stroke="#000" stroke-width="2.6"/>
<rect x="1242.9" y="214.0" width="9.0" height="225.0" fill="#ffffff" stroke="#000" stroke-width="2.7"/>
<line x1="1270.7" y1="186.1" x2="1270.7" y2="185.3" stroke="#000" stroke-width="2.6"/>
<line x1="1267.0" y1="185.3" x2="1274.4" y2="185.3" stroke="#000" stroke-width="2.6"/>
<rect x="1266.2" y="187.2" width="9.0" height="251.8" fill="#000000" stroke="#000" stroke-width="2.7"/>
<line x1="1284.6" y1="208.2" x2="1284.6" y2="198.2" stroke="#000" stroke-width="2.6"/>
<line x1="1280.9" y1="198.2" x2="1288.3" y2="198.2" stroke="#000" stroke-width="2.6"/>
<rect x="1280.1" y="209.3" width="9.0" height="229.7" fill="#666666" stroke="#000" stroke-width="2.7"/>
<line x1="1298.5" y1="219.5" x2="1298.5" y2="210.3" stroke="#000" stroke-width="2.6"/>
<line x1="1294.8" y1="210.3" x2="1302.2" y2="210.3" stroke="#000" stroke-width="2.6"/>
<rect x="1294.0" y="220.7" width="9.0" height="218.3" fill="#a5a5a8" stroke="#000" stroke-width="2.7"/>
<line x1="1312.4" y1="259.5" x2="1312.4" y2="248.6" stroke="#000" stroke-width="2.6"/>
<line x1="1308.7" y1="248.6" x2="1316.1" y2="248.6" stroke="#000" stroke-width="2.6"/>
<rect x="1307.9" y="260.7" width="9.0" height="178.3" fill="#d3d3d3" stroke="#000" stroke-width="2.7"/>
<line x1="1326.3" y1="298.2" x2="1326.3" y2="290.9" stroke="#000" stroke-width="2.6"/>
<line x1="1322.6" y1="290.9" x2="1330.0" y2="290.9" stroke="#000" stroke-width="2.6"/>
<rect x="1321.8" y="299.4" width="9.0" height="139.7" fill="#ffffff" stroke="#000" stroke-width="2.7"/>
<line x1="1349.7" y1="186.5" x2="1349.7" y2="185.7" stroke="#000" stroke-width="2.6"/>
<line x1="1346.0" y1="185.7" x2="1353.4" y2="185.7" stroke="#000" stroke-width="2.6"/>
<rect x="1345.2" y="187.7" width="9.0" height="251.3" fill="#000000" stroke="#000" stroke-width="2.7"/>
<line x1="1363.6" y1="176.0" x2="1363.6" y2="167.1" stroke="#000" stroke-width="2.6"/>
<line x1="1359.9" y1="167.1" x2="1367.3" y2="167.1" stroke="#000" stroke-width="2.6"/>
<rect x="1359.1" y="177.2" width="9.0" height="261.8" fill="#666666" stroke="#000" stroke-width="2.7"/>
<line x1="1377.5" y1="185.6" x2="1377.5" y2="177.6" stroke="#000" stroke-width="2.6"/>
<line x1="1373.8" y1="177.6" x2="1381.2" y2="177.6" stroke="#000" stroke-width="2.6"/>
<rect x="1373.0" y="186.8" width="9.0" height="252.2" fill="#a5a5a8" stroke="#000" stroke-width="2.7"/>
<line x1="1391.4" y1="186.5" x2="1391.4" y2="184.0" stroke="#000" stroke-width="2.6"/>
<line x1="1387.7" y1="184.0" x2="1395.1" y2="184.0" stroke="#000" stroke-width="2.6"/>
<rect x="1386.9" y="187.7" width="9.0" height="251.3" fill="#d3d3d3" stroke="#000" stroke-width="2.7"/>
<line x1="1405.3" y1="189.4" x2="1405.3" y2="186.7" stroke="#000" stroke-width="2.6"/>
<line x1="1401.6" y1="186.7" x2="1409.0" y2="186.7" stroke="#000" stroke-width="2.6"/>
<rect x="1400.8" y="190.6" width="9.0" height="248.4" fill="#ffffff" stroke="#000" stroke-width="2.7"/>
<line x1="1428.6" y1="186.1" x2="1428.6" y2="184.9" stroke="#000" stroke-width="2.6"/>
<line x1="1424.9" y1="184.9" x2="1432.3" y2="184.9" stroke="#000" stroke-width="2.6"/>
<rect x="1424.1" y="187.2" width="9.0" height="251.8" fill="#000000" stroke="#000" stroke-width="2.7"/>
<line x1="1442.5" y1="192.3" x2="1442.5" y2="188.6" stroke="#000" stroke-width="2.6"/>
<line x1="1438.8" y1="188.6" x2="1446.2" y2="188.6" stroke="#000" stroke-width="2.6"/>
<rect x="1438.0" y="193.5" width="9.0" height="245.5" fill="#666666" stroke="#000" stroke-width="2.7"/>
<line x1="1456.4" y1="205.7" x2="1456.4" y2="201.0" stroke="#000" stroke-width="2.6"/>
<line x1="1452.7" y1="201.0" x2="1460.1" y2="201.0" stroke="#000" stroke-width="2.6"/>
<rect x="1451.9" y="206.8" width="9.0" height="232.2" fill="#a5a5a8" stroke="#000" stroke-width="2.7"/>
<line x1="1470.3" y1="206.1" x2="1470.3" y2="199.3" stroke="#000" stroke-width="2.6"/>
<line x1="1466.6" y1="199.3" x2="1474.0" y2="199.3" stroke="#000" stroke-width="2.6"/>
<rect x="1465.8" y="207.2" width="9.0" height="231.8" fill="#d3d3d3" stroke="#000" stroke-width="2.7"/>
<line x1="1484.2" y1="217.2" x2="1484.2" y2="213.1" stroke="#000" stroke-width="2.6"/>
<line x1="1480.5" y1="213.1" x2="1487.9" y2="213.1" stroke="#000" stroke-width="2.6"/>
<rect x="1479.7" y="218.3" width="9.0" height="220.7" fill="#ffffff" stroke="#000" stroke-width="2.7"/>
<line x1="1507.5" y1="186.1" x2="1507.5" y2="185.3" stroke="#000" stroke-width="2.6"/>
<line x1="1503.8" y1="185.3" x2="1511.2" y2="185.3" stroke="#000" stroke-width="2.6"/>
<rect x="1503.0" y="187.2" width="9.0" height="251.8" fill="#000000" stroke="#000" stroke-width="2.7"/>
<line x1="1521.4" y1="189.0" x2="1521.4" y2="184.9" stroke="#000" stroke-width="2.6"/>
<line x1="1517.7" y1="184.9" x2="1525.1" y2="184.9" stroke="#000" stroke-width="2.6"/>
<rect x="1516.9" y="190.2" width="9.0" height="248.8" fill="#666666" stroke="#000" stroke-width="2.7"/>
<line x1="1535.3" y1="198.4" x2="1535.3" y2="193.6" stroke="#000" stroke-width="2.6"/>
<line x1="1531.6" y1="193.6" x2="1539.0" y2="193.6" stroke="#000" stroke-width="2.6"/>
<rect x="1530.8" y="199.6" width="9.0" height="239.4" fill="#a5a5a8" stroke="#000" stroke-width="2.7"/>
<line x1="1549.2" y1="197.5" x2="1549.2" y2="188.8" stroke="#000" stroke-width="2.6"/>
<line x1="1545.5" y1="188.8" x2="1552.9" y2="188.8" stroke="#000" stroke-width="2.6"/>
<rect x="1544.7" y="198.7" width="9.0" height="240.3" fill="#d3d3d3" stroke="#000" stroke-width="2.7"/>
<line x1="1563.1" y1="212.0" x2="1563.1" y2="207.4" stroke="#000" stroke-width="2.6"/>
<line x1="1559.4" y1="207.4" x2="1566.8" y2="207.4" stroke="#000" stroke-width="2.6"/>
<rect x="1558.6" y="213.2" width="9.0" height="225.8" fill="#ffffff" stroke="#000" stroke-width="2.7"/>
<line x1="1586.5" y1="186.9" x2="1586.5" y2="183.6" stroke="#000" stroke-width="2.6"/>
<line x1="1582.8" y1="183.6" x2="1590.2" y2="183.6" stroke="#000" stroke-width="2.6"/>
<rect x="1582.0" y="188.1" width="9.0" height="250.9" fill="#000000" stroke="#000" stroke-width="2.7"/>
<line x1="1600.4" y1="173.5" x2="1600.4" y2="165.6" stroke="#000" stroke-width="2.6"/>
<line x1="1596.7" y1="165.6" x2="1604.1" y2="165.6" stroke="#000" stroke-width="2.6"/>
<rect x="1595.9" y="174.7" width="9.0" height="264.3" fill="#666666" stroke="#000" stroke-width="2.7"/>
<line x1="1614.3" y1="187.2" x2="1614.3" y2="177.8" stroke="#000" stroke-width="2.6"/>
<line x1="1610.6" y1="177.8" x2="1618.0" y2="177.8" stroke="#000" stroke-width="2.6"/>
<rect x="1609.8" y="188.3" width="9.0" height="250.7" fill="#a5a5a8" stroke="#000" stroke-width="2.7"/>
<line x1="1628.2" y1="214.4" x2="1628.2" y2="208.0" stroke="#000" stroke-width="2.6"/>
<line x1="1624.5" y1="208.0" x2="1631.9" y2="208.0" stroke="#000" stroke-width="2.6"/>
<rect x="1623.7" y="215.6" width="9.0" height="223.4" fill="#d3d3d3" stroke="#000" stroke-width="2.7"/>
<line x1="1642.1" y1="197.9" x2="1642.1" y2="188.4" stroke="#000" stroke-width="2.6"/>
<line x1="1638.4" y1="188.4" x2="1645.8" y2="188.4" stroke="#000" stroke-width="2.6"/>
<rect x="1637.6" y="199.1" width="9.0" height="239.9" fill="#ffffff" stroke="#000" stroke-width="2.7"/>
<line x1="1022.6" y1="135.0" x2="1022.6" y2="441.2" stroke="#000" stroke-width="4.4"/>
<line x1="1012.3" y1="439.0" x2="1656.0" y2="439.0" stroke="#000" stroke-width="4.1"/>
<text x="999.7" y="447.9" font-size="25.5" font-weight="bold" fill="#000" text-anchor="start" stroke="#000" stroke-width="0.5" stroke-linejoin="round" textLength="11.1" lengthAdjust="spacingAndGlyphs" >0</text>
<line x1="1012.3" y1="389.0" x2="1022.6" y2="389.0" stroke="#000" stroke-width="4.2"/>
<text x="988.6" y="397.9" font-size="25.5" font-weight="bold" fill="#000" text-anchor="start" stroke="#000" stroke-width="0.5" stroke-linejoin="round" textLength="22.2" lengthAdjust="spacingAndGlyphs" >20</text>
<line x1="1012.3" y1="339.0" x2="1022.6" y2="339.0" stroke="#000" stroke-width="4.2"/>
<text x="988.6" y="347.9" font-size="25.5" font-weight="bold" fill="#000" text-anchor="start" stroke="#000" stroke-width="0.5" stroke-linejoin="round" textLength="22.2" lengthAdjust="spacingAndGlyphs" >40</text>
<line x1="1012.3" y1="288.3" x2="1022.6" y2="288.3" stroke="#000" stroke-width="4.2"/>
<text x="988.6" y="297.2" font-size="25.5" font-weight="bold" fill="#000" text-anchor="start" stroke="#000" stroke-width="0.5" stroke-linejoin="round" textLength="22.2" lengthAdjust="spacingAndGlyphs" >60</text>
<line x1="1012.3" y1="238.3" x2="1022.6" y2="238.3" stroke="#000" stroke-width="4.2"/>
<text x="988.6" y="247.2" font-size="25.5" font-weight="bold" fill="#000" text-anchor="start" stroke="#000" stroke-width="0.5" stroke-linejoin="round" textLength="22.2" lengthAdjust="spacingAndGlyphs" >80</text>
<line x1="1012.3" y1="187.9" x2="1022.6" y2="187.9" stroke="#000" stroke-width="4.2"/>
<text x="977.5" y="196.8" font-size="25.5" font-weight="bold" fill="#000" text-anchor="start" stroke="#000" stroke-width="0.5" stroke-linejoin="round" textLength="33.3" lengthAdjust="spacingAndGlyphs" >100</text>
<line x1="1012.3" y1="137.2" x2="1022.6" y2="137.2" stroke="#000" stroke-width="4.2"/>
<text x="977.5" y="146.1" font-size="25.5" font-weight="bold" fill="#000" text-anchor="start" stroke="#000" stroke-width="0.5" stroke-linejoin="round" textLength="33.3" lengthAdjust="spacingAndGlyphs" >120</text>
<line x1="1061.7" y1="439.0" x2="1061.7" y2="450.5" stroke="#000" stroke-width="4.2"/>
<text x="1018.9" y="478.1" font-size="27.5" font-weight="bold" fill="#000" text-anchor="start" stroke="#000" stroke-width="0.45" stroke-linejoin="round" textLength="81.5" lengthAdjust="spacingAndGlyphs" >torkinib</text>
<line x1="1140.6" y1="439.0" x2="1140.6" y2="450.5" stroke="#000" stroke-width="4.2"/>
<text x="1134.9" y="478.1" font-size="27.6" font-weight="bold" fill="#000" text-anchor="start" stroke="#000" stroke-width="0.45" stroke-linejoin="round" textLength="11.8" lengthAdjust="spacingAndGlyphs" >1</text>
<line x1="1219.6" y1="439.0" x2="1219.6" y2="450.5" stroke="#000" stroke-width="4.2"/>
<text x="1214.7" y="478.1" font-size="27.6" font-weight="bold" fill="#000" text-anchor="start" stroke="#000" stroke-width="0.45" stroke-linejoin="round" textLength="11.8" lengthAdjust="spacingAndGlyphs" >2</text>
<line x1="1298.5" y1="439.0" x2="1298.5" y2="450.5" stroke="#000" stroke-width="4.2"/>
<text x="1292.8" y="478.1" font-size="27.6" font-weight="bold" fill="#000" text-anchor="start" stroke="#000" stroke-width="0.45" stroke-linejoin="round" textLength="11.8" lengthAdjust="spacingAndGlyphs" >3</text>
<line x1="1377.5" y1="439.0" x2="1377.5" y2="450.5" stroke="#000" stroke-width="4.2"/>
<text x="1372.6" y="478.1" font-size="27.6" font-weight="bold" fill="#000" text-anchor="start" stroke="#000" stroke-width="0.45" stroke-linejoin="round" textLength="11.8" lengthAdjust="spacingAndGlyphs" >4</text>
<line x1="1456.4" y1="439.0" x2="1456.4" y2="450.5" stroke="#000" stroke-width="4.2"/>
<text x="1450.7" y="478.1" font-size="27.6" font-weight="bold" fill="#000" text-anchor="start" stroke="#000" stroke-width="0.45" stroke-linejoin="round" textLength="11.8" lengthAdjust="spacingAndGlyphs" >5</text>
<line x1="1535.3" y1="439.0" x2="1535.3" y2="450.5" stroke="#000" stroke-width="4.2"/>
<text x="1530.8" y="478.1" font-size="27.6" font-weight="bold" fill="#000" text-anchor="start" stroke="#000" stroke-width="0.45" stroke-linejoin="round" textLength="11.8" lengthAdjust="spacingAndGlyphs" >6</text>
<line x1="1614.3" y1="439.0" x2="1614.3" y2="450.5" stroke="#000" stroke-width="4.2"/>
<text x="1610.6" y="478.1" font-size="27.6" font-weight="bold" fill="#000" text-anchor="start" stroke="#000" stroke-width="0.45" stroke-linejoin="round" textLength="11.8" lengthAdjust="spacingAndGlyphs" >7</text>
<line x1="1033.5" y1="175.4" x2="1048.8" y2="175.4" stroke="#1c1c1c" stroke-width="2.3"/>
<text x="1029.6" y="173.6" font-size="18.2" font-weight="200" fill="#2e2e2e" text-anchor="start" stroke="#2e2e2e" stroke-width="0.55" stroke-linejoin="round" textLength="32.8" lengthAdjust="spacingAndGlyphs" font-family="DejaVu Sans, Liberation Sans, sans-serif">****</text>
<line x1="1033.5" y1="149.1" x2="1063.8" y2="149.1" stroke="#1c1c1c" stroke-width="2.3"/>
<text x="1032.6" y="149.0" font-size="18.2" font-weight="200" fill="#2e2e2e" text-anchor="start" stroke="#2e2e2e" stroke-width="0.55" stroke-linejoin="round" textLength="32.8" lengthAdjust="spacingAndGlyphs" font-family="DejaVu Sans, Liberation Sans, sans-serif">****</text>
<line x1="1034.0" y1="124.0" x2="1078.6" y2="124.0" stroke="#1c1c1c" stroke-width="2.3"/>
<text x="1040.7" y="122.2" font-size="18.2" font-weight="200" fill="#2e2e2e" text-anchor="start" stroke="#2e2e2e" stroke-width="0.55" stroke-linejoin="round" textLength="32.8" lengthAdjust="spacingAndGlyphs" font-family="DejaVu Sans, Liberation Sans, sans-serif">****</text>
<line x1="1035.4" y1="97.7" x2="1094.1" y2="97.7" stroke="#1c1c1c" stroke-width="2.3"/>
<text x="1048.9" y="98.2" font-size="18.2" font-weight="200" fill="#2e2e2e" text-anchor="start" stroke="#2e2e2e" stroke-width="0.55" stroke-linejoin="round" textLength="32.8" lengthAdjust="spacingAndGlyphs" font-family="DejaVu Sans, Liberation Sans, sans-serif">****</text>
<line x1="1113.3" y1="174.4" x2="1128.7" y2="174.4" stroke="#1c1c1c" stroke-width="2.3"/>
<text x="1116.3" y="175.5" font-size="18.2" font-weight="200" fill="#2e2e2e" text-anchor="start" stroke="#2e2e2e" stroke-width="0.55" stroke-linejoin="round" textLength="8.2" lengthAdjust="spacingAndGlyphs" font-family="DejaVu Sans, Liberation Sans, sans-serif">*</text>
<line x1="1113.7" y1="154.5" x2="1144.0" y2="154.5" stroke="#1c1c1c" stroke-width="2.3"/>
<text x="1114.2" y="152.5" font-size="18.2" font-weight="200" fill="#2e2e2e" text-anchor="start" stroke="#2e2e2e" stroke-width="0.55" stroke-linejoin="round" textLength="32.8" lengthAdjust="spacingAndGlyphs" font-family="DejaVu Sans, Liberation Sans, sans-serif">****</text>
<line x1="1114.1" y1="132.8" x2="1163.2" y2="132.8" stroke="#1c1c1c" stroke-width="2.3"/>
<text x="1126.4" y="130.8" font-size="18.2" font-weight="200" fill="#2e2e2e" text-anchor="start" stroke="#2e2e2e" stroke-width="0.55" stroke-linejoin="round" textLength="24.6" lengthAdjust="spacingAndGlyphs" font-family="DejaVu Sans, Liberation Sans, sans-serif">***</text>
<line x1="1114.7" y1="113.2" x2="1173.2" y2="113.2" stroke="#1c1c1c" stroke-width="2.3"/>
<text x="1128.0" y="113.5" font-size="18.2" font-weight="200" fill="#2e2e2e" text-anchor="start" stroke="#2e2e2e" stroke-width="0.55" stroke-linejoin="round" textLength="32.8" lengthAdjust="spacingAndGlyphs" font-family="DejaVu Sans, Liberation Sans, sans-serif">****</text>
<line x1="1191.0" y1="170.2" x2="1252.9" y2="170.2" stroke="#1c1c1c" stroke-width="2.3"/>
<text x="1213.0" y="171.7" font-size="18.2" font-weight="200" fill="#2e2e2e" text-anchor="start" stroke="#2e2e2e" stroke-width="0.55" stroke-linejoin="round" textLength="16.4" lengthAdjust="spacingAndGlyphs" font-family="DejaVu Sans, Liberation Sans, sans-serif">**</text>
<line x1="1268.6" y1="175.0" x2="1298.6" y2="175.0" stroke="#1c1c1c" stroke-width="2.3"/>
<text x="1277.7" y="176.9" font-size="18.2" font-weight="200" fill="#2e2e2e" text-anchor="start" stroke="#2e2e2e" stroke-width="0.55" stroke-linejoin="round" textLength="16.4" lengthAdjust="spacingAndGlyphs" font-family="DejaVu Sans, Liberation Sans, sans-serif">**</text>
<line x1="1269.2" y1="153.9" x2="1313.9" y2="153.9" stroke="#1c1c1c" stroke-width="2.3"/>
<text x="1275.8" y="155.4" font-size="18.2" font-weight="200" fill="#2e2e2e" text-anchor="start" stroke="#2e2e2e" stroke-width="0.55" stroke-linejoin="round" textLength="32.8" lengthAdjust="spacingAndGlyphs" font-family="DejaVu Sans, Liberation Sans, sans-serif">****</text>
<line x1="1270.5" y1="131.1" x2="1329.1" y2="131.1" stroke="#1c1c1c" stroke-width="2.3"/>
<text x="1284.1" y="132.3" font-size="18.2" font-weight="200" fill="#2e2e2e" text-anchor="start" stroke="#2e2e2e" stroke-width="0.55" stroke-linejoin="round" textLength="32.8" lengthAdjust="spacingAndGlyphs" font-family="DejaVu Sans, Liberation Sans, sans-serif">****</text>
<line x1="1426.0" y1="174.0" x2="1456.3" y2="174.0" stroke="#1c1c1c" stroke-width="2.3"/>
<text x="1435.7" y="175.5" font-size="18.2" font-weight="200" fill="#2e2e2e" text-anchor="start" stroke="#2e2e2e" stroke-width="0.55" stroke-linejoin="round" textLength="16.4" lengthAdjust="spacingAndGlyphs" font-family="DejaVu Sans, Liberation Sans, sans-serif">**</text>
<line x1="1426.6" y1="152.6" x2="1471.7" y2="152.6" stroke="#1c1c1c" stroke-width="2.3"/>
<text x="1445.5" y="153.5" font-size="18.2" font-weight="200" fill="#2e2e2e" text-anchor="start" stroke="#2e2e2e" stroke-width="0.55" stroke-linejoin="round" textLength="8.2" lengthAdjust="spacingAndGlyphs" font-family="DejaVu Sans, Liberation Sans, sans-serif">*</text>
<line x1="1427.9" y1="129.9" x2="1486.7" y2="129.9" stroke="#1c1c1c" stroke-width="2.3"/>
<text x="1444.6" y="130.8" font-size="18.2" font-weight="200" fill="#2e2e2e" text-anchor="start" stroke="#2e2e2e" stroke-width="0.55" stroke-linejoin="round" textLength="24.6" lengthAdjust="spacingAndGlyphs" font-family="DejaVu Sans, Liberation Sans, sans-serif">***</text>
<line x1="1504.3" y1="172.7" x2="1562.9" y2="172.7" stroke="#1c1c1c" stroke-width="2.3"/>
<text x="1520.8" y="173.6" font-size="18.2" font-weight="200" fill="#2e2e2e" text-anchor="start" stroke="#2e2e2e" stroke-width="0.55" stroke-linejoin="round" textLength="24.6" lengthAdjust="spacingAndGlyphs" font-family="DejaVu Sans, Liberation Sans, sans-serif">***</text>
<line x1="1583.1" y1="155.8" x2="1627.9" y2="155.8" stroke="#1c1c1c" stroke-width="2.3"/>
<text x="1598.6" y="154.2" font-size="18.2" font-weight="200" fill="#2e2e2e" text-anchor="start" stroke="#2e2e2e" stroke-width="0.55" stroke-linejoin="round" textLength="16.4" lengthAdjust="spacingAndGlyphs" font-family="DejaVu Sans, Liberation Sans, sans-serif">**</text>
<text transform="translate(966.6 397.3) rotate(-90)" font-size="20.5" font-weight="bold" fill="#000" stroke="#000" stroke-width="0.5" textLength="219.5" lengthAdjust="spacingAndGlyphs">RFU (% of control)</text>
<rect x="1675.9" y="143.9" width="29.8" height="18.2" fill="#000000" stroke="#000" stroke-width="3"/>
<text x="1741.8" y="162.3" font-size="26" font-weight="normal" fill="#1a1a1a" text-anchor="start" stroke="#1a1a1a" stroke-width="0.25" stroke-linejoin="round" textLength="11.7" lengthAdjust="spacingAndGlyphs" >0</text>
<rect x="1675.9" y="183.2" width="29.8" height="18.2" fill="#666666" stroke="#000" stroke-width="3"/>
<text x="1734.2" y="201.6" font-size="26" font-weight="normal" fill="#1a1a1a" text-anchor="start" stroke="#1a1a1a" stroke-width="0.25" stroke-linejoin="round" textLength="23.3" lengthAdjust="spacingAndGlyphs" >10</text>
<rect x="1675.9" y="222.5" width="29.8" height="18.2" fill="#a5a5a8" stroke="#000" stroke-width="3"/>
<text x="1734.2" y="240.9" font-size="26" font-weight="normal" fill="#1a1a1a" text-anchor="start" stroke="#1a1a1a" stroke-width="0.25" stroke-linejoin="round" textLength="23.3" lengthAdjust="spacingAndGlyphs" >50</text>
<rect x="1675.9" y="261.8" width="29.8" height="18.2" fill="#d3d3d3" stroke="#000" stroke-width="3"/>
<text x="1734.2" y="280.2" font-size="26" font-weight="normal" fill="#1a1a1a" text-anchor="start" stroke="#1a1a1a" stroke-width="0.25" stroke-linejoin="round" textLength="23.3" lengthAdjust="spacingAndGlyphs" >80</text>
<rect x="1675.9" y="301.1" width="29.8" height="18.2" fill="#ffffff" stroke="#000" stroke-width="3"/>
<text x="1722.5" y="319.5" font-size="26" font-weight="normal" fill="#1a1a1a" text-anchor="start" stroke="#1a1a1a" stroke-width="0.25" stroke-linejoin="round" textLength="35.0" lengthAdjust="spacingAndGlyphs" >100</text>
<text x="1707.8" y="127.1" font-size="30.5" font-weight="normal" fill="#1a1a1a" text-anchor="start" stroke="#1a1a1a" stroke-width="0.25" stroke-linejoin="round" >[</text>
<text x="1717.4" y="127.1" font-size="32" font-weight="normal" fill="#1a1a1a" text-anchor="start" font-family="Liberation Serif, DejaVu Serif, serif">μ</text>
<text x="1733.4" y="127.1" font-size="30.5" font-weight="normal" fill="#1a1a1a" text-anchor="start" stroke="#1a1a1a" stroke-width="0.25" stroke-linejoin="round" textLength="28.6" lengthAdjust="spacingAndGlyphs" >M</text>
<text x="1762.1" y="127.1" font-size="30.5" font-weight="normal" fill="#1a1a1a" text-anchor="start" stroke="#1a1a1a" stroke-width="0.25" stroke-linejoin="round" >]</text>
<line x1="89.8" y1="738.3" x2="89.8" y2="737.9" stroke="#000" stroke-width="2.6"/>
<line x1="86.1" y1="737.9" x2="93.5" y2="737.9" stroke="#000" stroke-width="2.6"/>
<rect x="85.2" y="739.4" width="9.2" height="253.1" fill="#000000" stroke="#000" stroke-width="2.7"/>
<line x1="103.9" y1="841.7" x2="103.9" y2="836.5" stroke="#000" stroke-width="2.6"/>
<line x1="100.2" y1="836.5" x2="107.6" y2="836.5" stroke="#000" stroke-width="2.6"/>
<rect x="99.3" y="842.9" width="9.2" height="149.7" fill="#666666" stroke="#000" stroke-width="2.7"/>
<line x1="118.0" y1="818.0" x2="118.0" y2="811.9" stroke="#000" stroke-width="2.6"/>
<line x1="114.3" y1="811.9" x2="121.7" y2="811.9" stroke="#000" stroke-width="2.6"/>
<rect x="113.4" y="819.1" width="9.2" height="173.4" fill="#a5a5a8" stroke="#000" stroke-width="2.7"/>
<line x1="132.1" y1="816.2" x2="132.1" y2="811.9" stroke="#000" stroke-width="2.6"/>
<line x1="128.4" y1="811.9" x2="135.8" y2="811.9" stroke="#000" stroke-width="2.6"/>
<rect x="127.5" y="817.4" width="9.2" height="175.2" fill="#d3d3d3" stroke="#000" stroke-width="2.7"/>
<line x1="146.2" y1="828.6" x2="146.2" y2="822.6" stroke="#000" stroke-width="2.6"/>
<line x1="142.5" y1="822.6" x2="149.9" y2="822.6" stroke="#000" stroke-width="2.6"/>
<rect x="141.6" y="829.8" width="9.2" height="162.8" fill="#ffffff" stroke="#000" stroke-width="2.7"/>
<line x1="169.7" y1="738.3" x2="169.7" y2="732.7" stroke="#000" stroke-width="2.6"/>
<line x1="166.0" y1="732.7" x2="173.4" y2="732.7" stroke="#000" stroke-width="2.6"/>
<rect x="165.1" y="739.4" width="9.2" height="253.1" fill="#000000" stroke="#000" stroke-width="2.7"/>
<line x1="183.8" y1="735.0" x2="183.8" y2="727.7" stroke="#000" stroke-width="2.6"/>
<line x1="180.1" y1="727.7" x2="187.5" y2="727.7" stroke="#000" stroke-width="2.6"/>
<rect x="179.2" y="736.1" width="9.2" height="256.4" fill="#666666" stroke="#000" stroke-width="2.7"/>
<line x1="197.9" y1="741.7" x2="197.9" y2="733.4" stroke="#000" stroke-width="2.6"/>
<line x1="194.2" y1="733.4" x2="201.6" y2="733.4" stroke="#000" stroke-width="2.6"/>
<rect x="193.3" y="742.9" width="9.2" height="249.7" fill="#a5a5a8" stroke="#000" stroke-width="2.7"/>
<line x1="212.0" y1="735.0" x2="212.0" y2="726.2" stroke="#000" stroke-width="2.6"/>
<line x1="208.3" y1="726.2" x2="215.7" y2="726.2" stroke="#000" stroke-width="2.6"/>
<rect x="207.4" y="736.1" width="9.2" height="256.4" fill="#d3d3d3" stroke="#000" stroke-width="2.7"/>
<line x1="226.1" y1="747.4" x2="226.1" y2="735.7" stroke="#000" stroke-width="2.6"/>
<line x1="222.4" y1="735.7" x2="229.8" y2="735.7" stroke="#000" stroke-width="2.6"/>
<rect x="221.5" y="748.5" width="9.2" height="244.0" fill="#ffffff" stroke="#000" stroke-width="2.7"/>
<line x1="249.6" y1="738.3" x2="249.6" y2="734.1" stroke="#000" stroke-width="2.6"/>
<line x1="245.9" y1="734.1" x2="253.3" y2="734.1" stroke="#000" stroke-width="2.6"/>
<rect x="245.0" y="739.4" width="9.2" height="253.1" fill="#000000" stroke="#000" stroke-width="2.7"/>
<line x1="263.7" y1="720.7" x2="263.7" y2="709.7" stroke="#000" stroke-width="2.6"/>
<line x1="260.0" y1="709.7" x2="267.4" y2="709.7" stroke="#000" stroke-width="2.6"/>
<rect x="259.1" y="721.9" width="9.2" height="270.6" fill="#666666" stroke="#000" stroke-width="2.7"/>
<line x1="277.8" y1="737.7" x2="277.8" y2="728.2" stroke="#000" stroke-width="2.6"/>
<line x1="274.1" y1="728.2" x2="281.5" y2="728.2" stroke="#000" stroke-width="2.6"/>
<rect x="273.2" y="738.9" width="9.2" height="253.7" fill="#a5a5a8" stroke="#000" stroke-width="2.7"/>
<line x1="291.9" y1="730.9" x2="291.9" y2="724.8" stroke="#000" stroke-width="2.6"/>
<line x1="288.2" y1="724.8" x2="295.6" y2="724.8" stroke="#000" stroke-width="2.6"/>
<rect x="287.3" y="732.0" width="9.2" height="260.5" fill="#d3d3d3" stroke="#000" stroke-width="2.7"/>
<line x1="306.0" y1="731.6" x2="306.0" y2="723.7" stroke="#000" stroke-width="2.6"/>
<line x1="302.3" y1="723.7" x2="309.7" y2="723.7" stroke="#000" stroke-width="2.6"/>
<rect x="301.4" y="732.8" width="9.2" height="259.8" fill="#ffffff" stroke="#000" stroke-width="2.7"/>
<line x1="329.5" y1="738.3" x2="329.5" y2="736.8" stroke="#000" stroke-width="2.6"/>
<line x1="325.8" y1="736.8" x2="333.2" y2="736.8" stroke="#000" stroke-width="2.6"/>
<rect x="324.9" y="739.4" width="9.2" height="253.1" fill="#000000" stroke="#000" stroke-width="2.7"/>
<line x1="343.6" y1="796.3" x2="343.6" y2="794.8" stroke="#000" stroke-width="2.6"/>
<line x1="339.9" y1="794.8" x2="347.3" y2="794.8" stroke="#000" stroke-width="2.6"/>
<rect x="339.0" y="797.4" width="9.2" height="195.1" fill="#666666" stroke="#000" stroke-width="2.7"/>
<line x1="357.7" y1="807.6" x2="357.7" y2="806.1" stroke="#000" stroke-width="2.6"/>
<line x1="354.0" y1="806.1" x2="361.4" y2="806.1" stroke="#000" stroke-width="2.6"/>
<rect x="353.1" y="808.8" width="9.2" height="183.8" fill="#a5a5a8" stroke="#000" stroke-width="2.7"/>
<line x1="371.8" y1="782.8" x2="371.8" y2="779.2" stroke="#000" stroke-width="2.6"/>
<line x1="368.1" y1="779.2" x2="375.5" y2="779.2" stroke="#000" stroke-width="2.6"/>
<rect x="367.2" y="783.9" width="9.2" height="208.6" fill="#d3d3d3" stroke="#000" stroke-width="2.7"/>
<line x1="385.9" y1="825.7" x2="385.9" y2="823.0" stroke="#000" stroke-width="2.6"/>
<line x1="382.2" y1="823.0" x2="389.6" y2="823.0" stroke="#000" stroke-width="2.6"/>
<rect x="381.3" y="826.9" width="9.2" height="165.7" fill="#ffffff" stroke="#000" stroke-width="2.7"/>
<line x1="409.4" y1="738.3" x2="409.4" y2="736.3" stroke="#000" stroke-width="2.6"/>
<line x1="405.7" y1="736.3" x2="413.1" y2="736.3" stroke="#000" stroke-width="2.6"/>
<rect x="404.8" y="739.4" width="9.2" height="253.1" fill="#000000" stroke="#000" stroke-width="2.7"/>
<line x1="423.5" y1="749.6" x2="423.5" y2="744.7" stroke="#000" stroke-width="2.6"/>
<line x1="419.8" y1="744.7" x2="427.2" y2="744.7" stroke="#000" stroke-width="2.6"/>
<rect x="418.9" y="750.8" width="9.2" height="241.8" fill="#666666" stroke="#000" stroke-width="2.7"/>
<line x1="437.6" y1="735.0" x2="437.6" y2="729.6" stroke="#000" stroke-width="2.6"/>
<line x1="433.9" y1="729.6" x2="441.3" y2="729.6" stroke="#000" stroke-width="2.6"/>
<rect x="433.0" y="736.1" width="9.2" height="256.4" fill="#a5a5a8" stroke="#000" stroke-width="2.7"/>
<line x1="451.7" y1="753.0" x2="451.7" y2="746.9" stroke="#000" stroke-width="2.6"/>
<line x1="448.0" y1="746.9" x2="455.4" y2="746.9" stroke="#000" stroke-width="2.6"/>
<rect x="447.1" y="754.1" width="9.2" height="238.4" fill="#d3d3d3" stroke="#000" stroke-width="2.7"/>
<line x1="465.8" y1="756.4" x2="465.8" y2="749.2" stroke="#000" stroke-width="2.6"/>
<line x1="462.1" y1="749.2" x2="469.5" y2="749.2" stroke="#000" stroke-width="2.6"/>
<rect x="461.2" y="757.5" width="9.2" height="235.0" fill="#ffffff" stroke="#000" stroke-width="2.7"/>
<line x1="489.3" y1="738.3" x2="489.3" y2="732.9" stroke="#000" stroke-width="2.6"/>
<line x1="485.6" y1="732.9" x2="493.0" y2="732.9" stroke="#000" stroke-width="2.6"/>
<rect x="484.7" y="739.4" width="9.2" height="253.1" fill="#000000" stroke="#000" stroke-width="2.7"/>
<line x1="503.4" y1="772.9" x2="503.4" y2="763.4" stroke="#000" stroke-width="2.6"/>
<line x1="499.7" y1="763.4" x2="507.1" y2="763.4" stroke="#000" stroke-width="2.6"/>
<rect x="498.8" y="774.0" width="9.2" height="218.5" fill="#666666" stroke="#000" stroke-width="2.7"/>
<line x1="517.5" y1="753.7" x2="517.5" y2="747.6" stroke="#000" stroke-width="2.6"/>
<line x1="513.8" y1="747.6" x2="521.2" y2="747.6" stroke="#000" stroke-width="2.6"/>
<rect x="512.9" y="754.9" width="9.2" height="237.7" fill="#a5a5a8" stroke="#000" stroke-width="2.7"/>
<line x1="531.6" y1="772.6" x2="531.6" y2="769.5" stroke="#000" stroke-width="2.6"/>
<line x1="527.9" y1="769.5" x2="535.3" y2="769.5" stroke="#000" stroke-width="2.6"/>
<rect x="527.0" y="773.8" width="9.2" height="218.8" fill="#d3d3d3" stroke="#000" stroke-width="2.7"/>
<line x1="545.7" y1="783.5" x2="545.7" y2="777.0" stroke="#000" stroke-width="2.6"/>
<line x1="542.0" y1="777.0" x2="549.4" y2="777.0" stroke="#000" stroke-width="2.6"/>
<rect x="541.1" y="784.6" width="9.2" height="207.9" fill="#ffffff" stroke="#000" stroke-width="2.7"/>
<line x1="569.2" y1="738.3" x2="569.2" y2="737.2" stroke="#000" stroke-width="2.6"/>
<line x1="565.5" y1="737.2" x2="572.9" y2="737.2" stroke="#000" stroke-width="2.6"/>
<rect x="564.6" y="739.4" width="9.2" height="253.1" fill="#000000" stroke="#000" stroke-width="2.7"/>
<line x1="583.3" y1="728.8" x2="583.3" y2="722.8" stroke="#000" stroke-width="2.6"/>
<line x1="579.6" y1="722.8" x2="587.0" y2="722.8" stroke="#000" stroke-width="2.6"/>
<rect x="578.7" y="729.9" width="9.2" height="262.6" fill="#666666" stroke="#000" stroke-width="2.7"/>
<line x1="597.4" y1="749.2" x2="597.4" y2="745.1" stroke="#000" stroke-width="2.6"/>
<line x1="593.7" y1="745.1" x2="601.1" y2="745.1" stroke="#000" stroke-width="2.6"/>
<rect x="592.8" y="750.4" width="9.2" height="242.2" fill="#a5a5a8" stroke="#000" stroke-width="2.7"/>
<line x1="611.5" y1="754.6" x2="611.5" y2="749.2" stroke="#000" stroke-width="2.6"/>
<line x1="607.8" y1="749.2" x2="615.2" y2="749.2" stroke="#000" stroke-width="2.6"/>
<rect x="606.9" y="755.8" width="9.2" height="236.8" fill="#d3d3d3" stroke="#000" stroke-width="2.7"/>
<line x1="625.6" y1="772.6" x2="625.6" y2="770.0" stroke="#000" stroke-width="2.6"/>
<line x1="621.9" y1="770.0" x2="629.3" y2="770.0" stroke="#000" stroke-width="2.6"/>
<rect x="621.0" y="773.8" width="9.2" height="218.8" fill="#ffffff" stroke="#000" stroke-width="2.7"/>
<line x1="649.1" y1="738.3" x2="649.1" y2="735.7" stroke="#000" stroke-width="2.6"/>
<line x1="645.4" y1="735.7" x2="652.8" y2="735.7" stroke="#000" stroke-width="2.6"/>
<rect x="644.5" y="739.4" width="9.2" height="253.1" fill="#000000" stroke="#000" stroke-width="2.7"/>
<line x1="663.2" y1="749.6" x2="663.2" y2="740.2" stroke="#000" stroke-width="2.6"/>
<line x1="659.5" y1="740.2" x2="666.9" y2="740.2" stroke="#000" stroke-width="2.6"/>
<rect x="658.6" y="750.8" width="9.2" height="241.8" fill="#666666" stroke="#000" stroke-width="2.7"/>
<line x1="677.3" y1="793.2" x2="677.3" y2="787.1" stroke="#000" stroke-width="2.6"/>
<line x1="673.6" y1="787.1" x2="681.0" y2="787.1" stroke="#000" stroke-width="2.6"/>
<rect x="672.7" y="794.4" width="9.2" height="198.2" fill="#a5a5a8" stroke="#000" stroke-width="2.7"/>
<line x1="691.4" y1="792.0" x2="691.4" y2="787.1" stroke="#000" stroke-width="2.6"/>
<line x1="687.7" y1="787.1" x2="695.1" y2="787.1" stroke="#000" stroke-width="2.6"/>
<rect x="686.8" y="793.1" width="9.2" height="199.4" fill="#d3d3d3" stroke="#000" stroke-width="2.7"/>
<line x1="705.5" y1="797.5" x2="705.5" y2="792.1" stroke="#000" stroke-width="2.6"/>
<line x1="701.8" y1="792.1" x2="709.2" y2="792.1" stroke="#000" stroke-width="2.6"/>
<rect x="700.9" y="798.6" width="9.2" height="193.9" fill="#ffffff" stroke="#000" stroke-width="2.7"/>
<line x1="77.9" y1="686.2" x2="77.9" y2="994.7" stroke="#000" stroke-width="4.4"/>
<line x1="67.6" y1="992.5" x2="718.0" y2="992.5" stroke="#000" stroke-width="4.1"/>
<text x="55.2" y="1001.4" font-size="25.5" font-weight="bold" fill="#000" text-anchor="start" stroke="#000" stroke-width="0.5" stroke-linejoin="round" textLength="11.1" lengthAdjust="spacingAndGlyphs" >0</text>
<line x1="67.6" y1="941.7" x2="77.9" y2="941.7" stroke="#000" stroke-width="4.2"/>
<text x="44.1" y="950.6" font-size="25.5" font-weight="bold" fill="#000" text-anchor="start" stroke="#000" stroke-width="0.5" stroke-linejoin="round" textLength="22.2" lengthAdjust="spacingAndGlyphs" >20</text>
<line x1="67.6" y1="891.2" x2="77.9" y2="891.2" stroke="#000" stroke-width="4.2"/>
<text x="44.1" y="900.1" font-size="25.5" font-weight="bold" fill="#000" text-anchor="start" stroke="#000" stroke-width="0.5" stroke-linejoin="round" textLength="22.2" lengthAdjust="spacingAndGlyphs" >40</text>
<line x1="67.6" y1="840.6" x2="77.9" y2="840.6" stroke="#000" stroke-width="4.2"/>
<text x="44.1" y="849.5" font-size="25.5" font-weight="bold" fill="#000" text-anchor="start" stroke="#000" stroke-width="0.5" stroke-linejoin="round" textLength="22.2" lengthAdjust="spacingAndGlyphs" >60</text>
<line x1="67.6" y1="789.8" x2="77.9" y2="789.8" stroke="#000" stroke-width="4.2"/>
<text x="44.1" y="798.7" font-size="25.5" font-weight="bold" fill="#000" text-anchor="start" stroke="#000" stroke-width="0.5" stroke-linejoin="round" textLength="22.2" lengthAdjust="spacingAndGlyphs" >80</text>
<line x1="67.6" y1="739.5" x2="77.9" y2="739.5" stroke="#000" stroke-width="4.2"/>
<text x="33.0" y="748.4" font-size="25.5" font-weight="bold" fill="#000" text-anchor="start" stroke="#000" stroke-width="0.5" stroke-linejoin="round" textLength="33.3" lengthAdjust="spacingAndGlyphs" >100</text>
<line x1="67.6" y1="688.4" x2="77.9" y2="688.4" stroke="#000" stroke-width="4.2"/>
<text x="33.0" y="697.3" font-size="25.5" font-weight="bold" fill="#000" text-anchor="start" stroke="#000" stroke-width="0.5" stroke-linejoin="round" textLength="33.3" lengthAdjust="spacingAndGlyphs" >120</text>
<line x1="118.0" y1="992.5" x2="118.0" y2="1004.0" stroke="#000" stroke-width="4.2"/>
<text x="73.5" y="1033.6" font-size="27.5" font-weight="bold" fill="#000" text-anchor="start" stroke="#000" stroke-width="0.45" stroke-linejoin="round" textLength="81.5" lengthAdjust="spacingAndGlyphs" >torkinib</text>
<line x1="197.9" y1="992.5" x2="197.9" y2="1004.0" stroke="#000" stroke-width="4.2"/>
<text x="190.7" y="1033.6" font-size="27.6" font-weight="bold" fill="#000" text-anchor="start" stroke="#000" stroke-width="0.45" stroke-linejoin="round" textLength="11.8" lengthAdjust="spacingAndGlyphs" >1</text>
<line x1="277.8" y1="992.5" x2="277.8" y2="1004.0" stroke="#000" stroke-width="4.2"/>
<text x="270.1" y="1033.6" font-size="27.6" font-weight="bold" fill="#000" text-anchor="start" stroke="#000" stroke-width="0.45" stroke-linejoin="round" textLength="11.8" lengthAdjust="spacingAndGlyphs" >2</text>
<line x1="357.7" y1="992.5" x2="357.7" y2="1004.0" stroke="#000" stroke-width="4.2"/>
<text x="350.5" y="1033.6" font-size="27.6" font-weight="bold" fill="#000" text-anchor="start" stroke="#000" stroke-width="0.45" stroke-linejoin="round" textLength="11.8" lengthAdjust="spacingAndGlyphs" >3</text>
<line x1="437.6" y1="992.5" x2="437.6" y2="1004.0" stroke="#000" stroke-width="4.2"/>
<text x="433.4" y="1033.6" font-size="27.6" font-weight="bold" fill="#000" text-anchor="start" stroke="#000" stroke-width="0.45" stroke-linejoin="round" textLength="11.8" lengthAdjust="spacingAndGlyphs" >4</text>
<line x1="517.5" y1="992.5" x2="517.5" y2="1004.0" stroke="#000" stroke-width="4.2"/>
<text x="511.8" y="1033.6" font-size="27.6" font-weight="bold" fill="#000" text-anchor="start" stroke="#000" stroke-width="0.45" stroke-linejoin="round" textLength="11.8" lengthAdjust="spacingAndGlyphs" >5</text>
<line x1="597.4" y1="992.5" x2="597.4" y2="1004.0" stroke="#000" stroke-width="4.2"/>
<text x="591.7" y="1033.6" font-size="27.6" font-weight="bold" fill="#000" text-anchor="start" stroke="#000" stroke-width="0.45" stroke-linejoin="round" textLength="11.8" lengthAdjust="spacingAndGlyphs" >6</text>
<line x1="677.3" y1="992.5" x2="677.3" y2="1004.0" stroke="#000" stroke-width="4.2"/>
<text x="673.6" y="1033.6" font-size="27.6" font-weight="bold" fill="#000" text-anchor="start" stroke="#000" stroke-width="0.45" stroke-linejoin="round" textLength="11.8" lengthAdjust="spacingAndGlyphs" >7</text>
<line x1="90.3" y1="726.6" x2="105.0" y2="726.6" stroke="#1c1c1c" stroke-width="2.3"/>
<text x="85.9" y="724.4" font-size="18.2" font-weight="200" fill="#2e2e2e" text-anchor="start" stroke="#2e2e2e" stroke-width="0.55" stroke-linejoin="round" textLength="32.8" lengthAdjust="spacingAndGlyphs" font-family="DejaVu Sans, Liberation Sans, sans-serif">****</text>
<line x1="90.3" y1="700.4" x2="120.1" y2="700.4" stroke="#1c1c1c" stroke-width="2.3"/>
<text x="89.2" y="699.8" font-size="18.2" font-weight="200" fill="#2e2e2e" text-anchor="start" stroke="#2e2e2e" stroke-width="0.55" stroke-linejoin="round" textLength="32.8" lengthAdjust="spacingAndGlyphs" font-family="DejaVu Sans, Liberation Sans, sans-serif">****</text>
<line x1="90.7" y1="674.7" x2="135.4" y2="674.7" stroke="#1c1c1c" stroke-width="2.3"/>
<text x="97.1" y="673.6" font-size="18.2" font-weight="200" fill="#2e2e2e" text-anchor="start" stroke="#2e2e2e" stroke-width="0.55" stroke-linejoin="round" textLength="32.8" lengthAdjust="spacingAndGlyphs" font-family="DejaVu Sans, Liberation Sans, sans-serif">****</text>
<line x1="91.9" y1="648.9" x2="150.1" y2="648.9" stroke="#1c1c1c" stroke-width="2.3"/>
<text x="105.5" y="649.0" font-size="18.2" font-weight="200" fill="#2e2e2e" text-anchor="start" stroke="#2e2e2e" stroke-width="0.55" stroke-linejoin="round" textLength="32.8" lengthAdjust="spacingAndGlyphs" font-family="DejaVu Sans, Liberation Sans, sans-serif">****</text>
<line x1="328.9" y1="725.9" x2="346.5" y2="725.9" stroke="#1c1c1c" stroke-width="2.3"/>
<text x="324.5" y="726.2" font-size="18.2" font-weight="200" fill="#2e2e2e" text-anchor="start" stroke="#2e2e2e" stroke-width="0.55" stroke-linejoin="round" textLength="32.8" lengthAdjust="spacingAndGlyphs" font-family="DejaVu Sans, Liberation Sans, sans-serif">****</text>
<line x1="328.9" y1="699.5" x2="358.9" y2="699.5" stroke="#1c1c1c" stroke-width="2.3"/>
<text x="329.0" y="698.0" font-size="18.2" font-weight="200" fill="#2e2e2e" text-anchor="start" stroke="#2e2e2e" stroke-width="0.55" stroke-linejoin="round" textLength="32.8" lengthAdjust="spacingAndGlyphs" font-family="DejaVu Sans, Liberation Sans, sans-serif">****</text>
<line x1="329.6" y1="671.7" x2="374.3" y2="671.7" stroke="#1c1c1c" stroke-width="2.3"/>
<text x="336.2" y="670.9" font-size="18.2" font-weight="200" fill="#2e2e2e" text-anchor="start" stroke="#2e2e2e" stroke-width="0.55" stroke-linejoin="round" textLength="32.8" lengthAdjust="spacingAndGlyphs" font-family="DejaVu Sans, Liberation Sans, sans-serif">****</text>
<line x1="331.2" y1="646.0" x2="389.4" y2="646.0" stroke="#1c1c1c" stroke-width="2.3"/>
<text x="344.8" y="647.2" font-size="18.2" font-weight="200" fill="#2e2e2e" text-anchor="start" stroke="#2e2e2e" stroke-width="0.55" stroke-linejoin="round" textLength="32.8" lengthAdjust="spacingAndGlyphs" font-family="DejaVu Sans, Liberation Sans, sans-serif">****</text>
<line x1="408.2" y1="718.7" x2="466.9" y2="718.7" stroke="#1c1c1c" stroke-width="2.3"/>
<text x="435.7" y="717.9" font-size="18.2" font-weight="200" fill="#2e2e2e" text-anchor="start" stroke="#2e2e2e" stroke-width="0.55" stroke-linejoin="round" textLength="8.2" lengthAdjust="spacingAndGlyphs" font-family="DejaVu Sans, Liberation Sans, sans-serif">*</text>
<line x1="486.5" y1="721.6" x2="500.8" y2="721.6" stroke="#1c1c1c" stroke-width="2.3"/>
<text x="489.9" y="721.7" font-size="18.2" font-weight="200" fill="#2e2e2e" text-anchor="start" stroke="#2e2e2e" stroke-width="0.55" stroke-linejoin="round" textLength="8.2" lengthAdjust="spacingAndGlyphs" font-family="DejaVu Sans, Liberation Sans, sans-serif">*</text>
<line x1="486.5" y1="697.5" x2="530.6" y2="697.5" stroke="#1c1c1c" stroke-width="2.3"/>
<text x="496.4" y="697.5" font-size="18.2" font-weight="200" fill="#2e2e2e" text-anchor="start" stroke="#2e2e2e" stroke-width="0.55" stroke-linejoin="round" textLength="24.6" lengthAdjust="spacingAndGlyphs" font-family="DejaVu Sans, Liberation Sans, sans-serif">***</text>
<line x1="486.8" y1="672.2" x2="544.8" y2="672.2" stroke="#1c1c1c" stroke-width="2.3"/>
<text x="501.6" y="673.2" font-size="18.2" font-weight="200" fill="#2e2e2e" text-anchor="start" stroke="#2e2e2e" stroke-width="0.55" stroke-linejoin="round" textLength="24.6" lengthAdjust="spacingAndGlyphs" font-family="DejaVu Sans, Liberation Sans, sans-serif">***</text>
<line x1="567.4" y1="712.4" x2="611.4" y2="712.4" stroke="#1c1c1c" stroke-width="2.3"/>
<text x="587.4" y="713.8" font-size="18.2" font-weight="200" fill="#2e2e2e" text-anchor="start" stroke="#2e2e2e" stroke-width="0.55" stroke-linejoin="round" textLength="8.2" lengthAdjust="spacingAndGlyphs" font-family="DejaVu Sans, Liberation Sans, sans-serif">*</text>
<line x1="568.5" y1="688.2" x2="626.0" y2="688.2" stroke="#1c1c1c" stroke-width="2.3"/>
<text x="581.4" y="687.8" font-size="18.2" font-weight="200" fill="#2e2e2e" text-anchor="start" stroke="#2e2e2e" stroke-width="0.55" stroke-linejoin="round" textLength="32.8" lengthAdjust="spacingAndGlyphs" font-family="DejaVu Sans, Liberation Sans, sans-serif">****</text>
<line x1="648.0" y1="722.1" x2="677.5" y2="722.1" stroke="#1c1c1c" stroke-width="2.3"/>
<text x="647.6" y="721.0" font-size="18.2" font-weight="200" fill="#2e2e2e" text-anchor="start" stroke="#2e2e2e" stroke-width="0.55" stroke-linejoin="round" textLength="32.8" lengthAdjust="spacingAndGlyphs" font-family="DejaVu Sans, Liberation Sans, sans-serif">****</text>
<line x1="648.6" y1="695.0" x2="693.1" y2="695.0" stroke="#1c1c1c" stroke-width="2.3"/>
<text x="654.8" y="693.0" font-size="18.2" font-weight="200" fill="#2e2e2e" text-anchor="start" stroke="#2e2e2e" stroke-width="0.55" stroke-linejoin="round" textLength="32.8" lengthAdjust="spacingAndGlyphs" font-family="DejaVu Sans, Liberation Sans, sans-serif">****</text>
<line x1="649.8" y1="669.0" x2="708.0" y2="669.0" stroke="#1c1c1c" stroke-width="2.3"/>
<text x="663.2" y="669.3" font-size="18.2" font-weight="200" fill="#2e2e2e" text-anchor="start" stroke="#2e2e2e" stroke-width="0.55" stroke-linejoin="round" textLength="32.8" lengthAdjust="spacingAndGlyphs" font-family="DejaVu Sans, Liberation Sans, sans-serif">****</text>
<text transform="translate(21.4 954.8) rotate(-90)" font-size="20.5" font-weight="bold" fill="#000" stroke="#000" stroke-width="0.5" textLength="208.3" lengthAdjust="spacingAndGlyphs">AU (% of control)</text>
<rect x="739.1" y="694.7" width="29.8" height="18.2" fill="#000000" stroke="#000" stroke-width="3"/>
<text x="800.4" y="713.1" font-size="26" font-weight="normal" fill="#1a1a1a" text-anchor="start" stroke="#1a1a1a" stroke-width="0.25" stroke-linejoin="round" textLength="11.7" lengthAdjust="spacingAndGlyphs" >0</text>
<rect x="739.1" y="734.3" width="29.8" height="18.2" fill="#666666" stroke="#000" stroke-width="3"/>
<text x="789.8" y="752.7" font-size="26" font-weight="normal" fill="#1a1a1a" text-anchor="start" stroke="#1a1a1a" stroke-width="0.25" stroke-linejoin="round" textLength="23.3" lengthAdjust="spacingAndGlyphs" >10</text>
<rect x="739.1" y="773.9" width="29.8" height="18.2" fill="#a5a5a8" stroke="#000" stroke-width="3"/>
<text x="789.8" y="792.3" font-size="26" font-weight="normal" fill="#1a1a1a" text-anchor="start" stroke="#1a1a1a" stroke-width="0.25" stroke-linejoin="round" textLength="23.3" lengthAdjust="spacingAndGlyphs" >50</text>
<rect x="739.1" y="813.5" width="29.8" height="18.2" fill="#d3d3d3" stroke="#000" stroke-width="3"/>
<text x="789.8" y="831.9" font-size="26" font-weight="normal" fill="#1a1a1a" text-anchor="start" stroke="#1a1a1a" stroke-width="0.25" stroke-linejoin="round" textLength="23.3" lengthAdjust="spacingAndGlyphs" >80</text>
<rect x="739.1" y="853.1" width="29.8" height="18.2" fill="#ffffff" stroke="#000" stroke-width="3"/>
<text x="778.1" y="871.5" font-size="26" font-weight="normal" fill="#1a1a1a" text-anchor="start" stroke="#1a1a1a" stroke-width="0.25" stroke-linejoin="round" textLength="35.0" lengthAdjust="spacingAndGlyphs" >100</text>
<text x="766.1" y="678.0" font-size="30.5" font-weight="normal" fill="#1a1a1a" text-anchor="start" stroke="#1a1a1a" stroke-width="0.25" stroke-linejoin="round" >[</text>
<text x="775.7" y="678.0" font-size="32" font-weight="normal" fill="#1a1a1a" text-anchor="start" font-family="Liberation Serif, DejaVu Serif, serif">μ</text>
<text x="791.7" y="678.0" font-size="30.5" font-weight="normal" fill="#1a1a1a" text-anchor="start" stroke="#1a1a1a" stroke-width="0.25" stroke-linejoin="round" textLength="28.6" lengthAdjust="spacingAndGlyphs" >M</text>
<text x="820.4" y="678.0" font-size="30.5" font-weight="normal" fill="#1a1a1a" text-anchor="start" stroke="#1a1a1a" stroke-width="0.25" stroke-linejoin="round" >]</text>
<line x1="1034.4" y1="738.3" x2="1034.4" y2="733.8" stroke="#000" stroke-width="2.6"/>
<line x1="1030.7" y1="733.8" x2="1038.1" y2="733.8" stroke="#000" stroke-width="2.6"/>
<rect x="1029.8" y="739.4" width="9.2" height="253.1" fill="#000000" stroke="#000" stroke-width="2.7"/>
<line x1="1048.5" y1="763.2" x2="1048.5" y2="757.8" stroke="#000" stroke-width="2.6"/>
<line x1="1044.8" y1="757.8" x2="1052.2" y2="757.8" stroke="#000" stroke-width="2.6"/>
<rect x="1043.9" y="764.4" width="9.2" height="228.2" fill="#666666" stroke="#000" stroke-width="2.7"/>
<line x1="1062.6" y1="784.6" x2="1062.6" y2="779.2" stroke="#000" stroke-width="2.6"/>
<line x1="1058.9" y1="779.2" x2="1066.3" y2="779.2" stroke="#000" stroke-width="2.6"/>
<rect x="1058.0" y="785.8" width="9.2" height="206.8" fill="#a5a5a8" stroke="#000" stroke-width="2.7"/>
<line x1="1076.7" y1="802.7" x2="1076.7" y2="798.9" stroke="#000" stroke-width="2.6"/>
<line x1="1073.0" y1="798.9" x2="1080.4" y2="798.9" stroke="#000" stroke-width="2.6"/>
<rect x="1072.1" y="803.9" width="9.2" height="188.7" fill="#d3d3d3" stroke="#000" stroke-width="2.7"/>
<line x1="1090.8" y1="804.2" x2="1090.8" y2="800.4" stroke="#000" stroke-width="2.6"/>
<line x1="1087.1" y1="800.4" x2="1094.5" y2="800.4" stroke="#000" stroke-width="2.6"/>
<rect x="1086.2" y="805.4" width="9.2" height="187.2" fill="#ffffff" stroke="#000" stroke-width="2.7"/>
<line x1="1114.3" y1="737.2" x2="1114.3" y2="736.8" stroke="#000" stroke-width="2.6"/>
<line x1="1110.6" y1="736.8" x2="1118.0" y2="736.8" stroke="#000" stroke-width="2.6"/>
<rect x="1109.7" y="738.4" width="9.2" height="254.2" fill="#000000" stroke="#000" stroke-width="2.7"/>
<line x1="1128.4" y1="737.7" x2="1128.4" y2="732.3" stroke="#000" stroke-width="2.6"/>
<line x1="1124.7" y1="732.3" x2="1132.1" y2="732.3" stroke="#000" stroke-width="2.6"/>
<rect x="1123.8" y="738.9" width="9.2" height="253.7" fill="#666666" stroke="#000" stroke-width="2.7"/>
<line x1="1142.5" y1="738.3" x2="1142.5" y2="735.2" stroke="#000" stroke-width="2.6"/>
<line x1="1138.8" y1="735.2" x2="1146.2" y2="735.2" stroke="#000" stroke-width="2.6"/>
<rect x="1137.9" y="739.4" width="9.2" height="253.1" fill="#a5a5a8" stroke="#000" stroke-width="2.7"/>
<line x1="1156.6" y1="756.4" x2="1156.6" y2="754.4" stroke="#000" stroke-width="2.6"/>
<line x1="1152.9" y1="754.4" x2="1160.3" y2="754.4" stroke="#000" stroke-width="2.6"/>
<rect x="1152.0" y="757.5" width="9.2" height="235.0" fill="#d3d3d3" stroke="#000" stroke-width="2.7"/>
<line x1="1170.7" y1="757.1" x2="1170.7" y2="752.1" stroke="#000" stroke-width="2.6"/>
<line x1="1167.0" y1="752.1" x2="1174.4" y2="752.1" stroke="#000" stroke-width="2.6"/>
<rect x="1166.1" y="758.2" width="9.2" height="234.3" fill="#ffffff" stroke="#000" stroke-width="2.7"/>
<line x1="1194.2" y1="737.2" x2="1194.2" y2="736.3" stroke="#000" stroke-width="2.6"/>
<line x1="1190.5" y1="736.3" x2="1197.9" y2="736.3" stroke="#000" stroke-width="2.6"/>
<rect x="1189.6" y="738.4" width="9.2" height="254.2" fill="#000000" stroke="#000" stroke-width="2.7"/>
<line x1="1208.3" y1="754.1" x2="1208.3" y2="746.5" stroke="#000" stroke-width="2.6"/>
<line x1="1204.6" y1="746.5" x2="1212.0" y2="746.5" stroke="#000" stroke-width="2.6"/>
<rect x="1203.7" y="755.2" width="9.2" height="237.3" fill="#666666" stroke="#000" stroke-width="2.7"/>
<line x1="1222.4" y1="750.7" x2="1222.4" y2="742.0" stroke="#000" stroke-width="2.6"/>
<line x1="1218.7" y1="742.0" x2="1226.1" y2="742.0" stroke="#000" stroke-width="2.6"/>
<rect x="1217.8" y="751.9" width="9.2" height="240.7" fill="#a5a5a8" stroke="#000" stroke-width="2.7"/>
<line x1="1236.5" y1="749.6" x2="1236.5" y2="738.6" stroke="#000" stroke-width="2.6"/>
<line x1="1232.8" y1="738.6" x2="1240.2" y2="738.6" stroke="#000" stroke-width="2.6"/>
<rect x="1231.9" y="750.8" width="9.2" height="241.8" fill="#d3d3d3" stroke="#000" stroke-width="2.7"/>
<line x1="1250.6" y1="746.2" x2="1250.6" y2="737.9" stroke="#000" stroke-width="2.6"/>
<line x1="1246.9" y1="737.9" x2="1254.3" y2="737.9" stroke="#000" stroke-width="2.6"/>
<rect x="1246.0" y="747.4" width="9.2" height="245.2" fill="#ffffff" stroke="#000" stroke-width="2.7"/>
<line x1="1274.1" y1="738.3" x2="1274.1" y2="735.0" stroke="#000" stroke-width="2.6"/>
<line x1="1270.4" y1="735.0" x2="1277.8" y2="735.0" stroke="#000" stroke-width="2.6"/>
<rect x="1269.5" y="739.4" width="9.2" height="253.1" fill="#000000" stroke="#000" stroke-width="2.7"/>
<line x1="1288.2" y1="757.1" x2="1288.2" y2="753.3" stroke="#000" stroke-width="2.6"/>
<line x1="1284.5" y1="753.3" x2="1291.9" y2="753.3" stroke="#000" stroke-width="2.6"/>
<rect x="1283.6" y="758.2" width="9.2" height="234.3" fill="#666666" stroke="#000" stroke-width="2.7"/>
<line x1="1302.3" y1="789.1" x2="1302.3" y2="787.1" stroke="#000" stroke-width="2.6"/>
<line x1="1298.6" y1="787.1" x2="1306.0" y2="787.1" stroke="#000" stroke-width="2.6"/>
<rect x="1297.7" y="790.2" width="9.2" height="202.3" fill="#a5a5a8" stroke="#000" stroke-width="2.7"/>
<line x1="1316.4" y1="806.0" x2="1316.4" y2="804.0" stroke="#000" stroke-width="2.6"/>
<line x1="1312.7" y1="804.0" x2="1320.1" y2="804.0" stroke="#000" stroke-width="2.6"/>
<rect x="1311.8" y="807.1" width="9.2" height="185.4" fill="#d3d3d3" stroke="#000" stroke-width="2.7"/>
<line x1="1330.5" y1="827.9" x2="1330.5" y2="827.1" stroke="#000" stroke-width="2.6"/>
<line x1="1326.8" y1="827.1" x2="1334.2" y2="827.1" stroke="#000" stroke-width="2.6"/>
<rect x="1325.9" y="829.0" width="9.2" height="163.5" fill="#ffffff" stroke="#000" stroke-width="2.7"/>
<line x1="1354.0" y1="737.7" x2="1354.0" y2="737.5" stroke="#000" stroke-width="2.6"/>
<line x1="1350.3" y1="737.5" x2="1357.7" y2="737.5" stroke="#000" stroke-width="2.6"/>
<rect x="1349.4" y="738.9" width="9.2" height="253.7" fill="#000000" stroke="#000" stroke-width="2.7"/>
<line x1="1368.1" y1="749.6" x2="1368.1" y2="746.5" stroke="#000" stroke-width="2.6"/>
<line x1="1364.4" y1="746.5" x2="1371.8" y2="746.5" stroke="#000" stroke-width="2.6"/>
<rect x="1363.5" y="750.8" width="9.2" height="241.8" fill="#666666" stroke="#000" stroke-width="2.7"/>
<line x1="1382.2" y1="743.5" x2="1382.2" y2="739.7" stroke="#000" stroke-width="2.6"/>
<line x1="1378.5" y1="739.7" x2="1385.9" y2="739.7" stroke="#000" stroke-width="2.6"/>
<rect x="1377.6" y="744.6" width="9.2" height="247.9" fill="#a5a5a8" stroke="#000" stroke-width="2.7"/>
<line x1="1396.3" y1="749.2" x2="1396.3" y2="747.6" stroke="#000" stroke-width="2.6"/>
<line x1="1392.6" y1="747.6" x2="1400.0" y2="747.6" stroke="#000" stroke-width="2.6"/>
<rect x="1391.7" y="750.4" width="9.2" height="242.2" fill="#d3d3d3" stroke="#000" stroke-width="2.7"/>
<line x1="1410.4" y1="739.5" x2="1410.4" y2="735.2" stroke="#000" stroke-width="2.6"/>
<line x1="1406.7" y1="735.2" x2="1414.1" y2="735.2" stroke="#000" stroke-width="2.6"/>
<rect x="1405.8" y="740.6" width="9.2" height="251.9" fill="#ffffff" stroke="#000" stroke-width="2.7"/>
<line x1="1433.9" y1="738.3" x2="1433.9" y2="730.0" stroke="#000" stroke-width="2.6"/>
<line x1="1430.2" y1="730.0" x2="1437.6" y2="730.0" stroke="#000" stroke-width="2.6"/>
<rect x="1429.3" y="739.4" width="9.2" height="253.1" fill="#000000" stroke="#000" stroke-width="2.7"/>
<line x1="1448.0" y1="742.4" x2="1448.0" y2="735.0" stroke="#000" stroke-width="2.6"/>
<line x1="1444.3" y1="735.0" x2="1451.7" y2="735.0" stroke="#000" stroke-width="2.6"/>
<rect x="1443.4" y="743.5" width="9.2" height="249.0" fill="#666666" stroke="#000" stroke-width="2.7"/>
<line x1="1462.1" y1="747.4" x2="1462.1" y2="738.4" stroke="#000" stroke-width="2.6"/>
<line x1="1458.4" y1="738.4" x2="1465.8" y2="738.4" stroke="#000" stroke-width="2.6"/>
<rect x="1457.5" y="748.5" width="9.2" height="244.0" fill="#a5a5a8" stroke="#000" stroke-width="2.7"/>
<line x1="1476.2" y1="750.7" x2="1476.2" y2="743.1" stroke="#000" stroke-width="2.6"/>
<line x1="1472.5" y1="743.1" x2="1479.9" y2="743.1" stroke="#000" stroke-width="2.6"/>
<rect x="1471.6" y="751.9" width="9.2" height="240.7" fill="#d3d3d3" stroke="#000" stroke-width="2.7"/>
<line x1="1490.3" y1="761.6" x2="1490.3" y2="754.8" stroke="#000" stroke-width="2.6"/>
<line x1="1486.6" y1="754.8" x2="1494.0" y2="754.8" stroke="#000" stroke-width="2.6"/>
<rect x="1485.7" y="762.8" width="9.2" height="229.8" fill="#ffffff" stroke="#000" stroke-width="2.7"/>
<line x1="1513.8" y1="738.3" x2="1513.8" y2="735.2" stroke="#000" stroke-width="2.6"/>
<line x1="1510.1" y1="735.2" x2="1517.5" y2="735.2" stroke="#000" stroke-width="2.6"/>
<rect x="1509.2" y="739.4" width="9.2" height="253.1" fill="#000000" stroke="#000" stroke-width="2.7"/>
<line x1="1527.9" y1="729.8" x2="1527.9" y2="722.1" stroke="#000" stroke-width="2.6"/>
<line x1="1524.2" y1="722.1" x2="1531.6" y2="722.1" stroke="#000" stroke-width="2.6"/>
<rect x="1523.3" y="730.9" width="9.2" height="261.6" fill="#666666" stroke="#000" stroke-width="2.7"/>
<line x1="1542.0" y1="725.9" x2="1542.0" y2="719.8" stroke="#000" stroke-width="2.6"/>
<line x1="1538.3" y1="719.8" x2="1545.7" y2="719.8" stroke="#000" stroke-width="2.6"/>
<rect x="1537.4" y="727.0" width="9.2" height="265.5" fill="#a5a5a8" stroke="#000" stroke-width="2.7"/>
<line x1="1556.1" y1="726.6" x2="1556.1" y2="715.3" stroke="#000" stroke-width="2.6"/>
<line x1="1552.4" y1="715.3" x2="1559.8" y2="715.3" stroke="#000" stroke-width="2.6"/>
<rect x="1551.5" y="727.8" width="9.2" height="264.8" fill="#d3d3d3" stroke="#000" stroke-width="2.7"/>
<line x1="1570.2" y1="740.6" x2="1570.2" y2="733.4" stroke="#000" stroke-width="2.6"/>
<line x1="1566.5" y1="733.4" x2="1573.9" y2="733.4" stroke="#000" stroke-width="2.6"/>
<rect x="1565.6" y="741.8" width="9.2" height="250.8" fill="#ffffff" stroke="#000" stroke-width="2.7"/>
<line x1="1593.7" y1="738.3" x2="1593.7" y2="735.7" stroke="#000" stroke-width="2.6"/>
<line x1="1590.0" y1="735.7" x2="1597.4" y2="735.7" stroke="#000" stroke-width="2.6"/>
<rect x="1589.1" y="739.4" width="9.2" height="253.1" fill="#000000" stroke="#000" stroke-width="2.7"/>
<line x1="1607.8" y1="745.6" x2="1607.8" y2="740.8" stroke="#000" stroke-width="2.6"/>
<line x1="1604.1" y1="740.8" x2="1611.5" y2="740.8" stroke="#000" stroke-width="2.6"/>
<rect x="1603.2" y="746.8" width="9.2" height="245.8" fill="#666666" stroke="#000" stroke-width="2.7"/>
<line x1="1621.9" y1="782.3" x2="1621.9" y2="778.5" stroke="#000" stroke-width="2.6"/>
<line x1="1618.2" y1="778.5" x2="1625.6" y2="778.5" stroke="#000" stroke-width="2.6"/>
<rect x="1617.3" y="783.4" width="9.2" height="209.1" fill="#a5a5a8" stroke="#000" stroke-width="2.7"/>
<line x1="1636.0" y1="789.6" x2="1636.0" y2="786.4" stroke="#000" stroke-width="2.6"/>
<line x1="1632.3" y1="786.4" x2="1639.7" y2="786.4" stroke="#000" stroke-width="2.6"/>
<rect x="1631.4" y="790.8" width="9.2" height="201.8" fill="#d3d3d3" stroke="#000" stroke-width="2.7"/>
<line x1="1650.1" y1="798.8" x2="1650.1" y2="795.5" stroke="#000" stroke-width="2.6"/>
<line x1="1646.4" y1="795.5" x2="1653.8" y2="795.5" stroke="#000" stroke-width="2.6"/>
<rect x="1645.5" y="799.9" width="9.2" height="192.6" fill="#ffffff" stroke="#000" stroke-width="2.7"/>
<line x1="1023.0" y1="686.2" x2="1023.0" y2="994.7" stroke="#000" stroke-width="4.4"/>
<line x1="1012.7" y1="992.5" x2="1662.0" y2="992.5" stroke="#000" stroke-width="4.1"/>
<text x="999.7" y="1001.4" font-size="25.5" font-weight="bold" fill="#000" text-anchor="start" stroke="#000" stroke-width="0.5" stroke-linejoin="round" textLength="11.1" lengthAdjust="spacingAndGlyphs" >0</text>
<line x1="1012.7" y1="941.7" x2="1023.0" y2="941.7" stroke="#000" stroke-width="4.2"/>
<text x="988.6" y="950.6" font-size="25.5" font-weight="bold" fill="#000" text-anchor="start" stroke="#000" stroke-width="0.5" stroke-linejoin="round" textLength="22.2" lengthAdjust="spacingAndGlyphs" >20</text>
<line x1="1012.7" y1="891.2" x2="1023.0" y2="891.2" stroke="#000" stroke-width="4.2"/>
<text x="988.6" y="900.1" font-size="25.5" font-weight="bold" fill="#000" text-anchor="start" stroke="#000" stroke-width="0.5" stroke-linejoin="round" textLength="22.2" lengthAdjust="spacingAndGlyphs" >40</text>
<line x1="1012.7" y1="841.0" x2="1023.0" y2="841.0" stroke="#000" stroke-width="4.2"/>
<text x="988.6" y="849.9" font-size="25.5" font-weight="bold" fill="#000" text-anchor="start" stroke="#000" stroke-width="0.5" stroke-linejoin="round" textLength="22.2" lengthAdjust="spacingAndGlyphs" >60</text>
<line x1="1012.7" y1="790.2" x2="1023.0" y2="790.2" stroke="#000" stroke-width="4.2"/>
<text x="988.6" y="799.1" font-size="25.5" font-weight="bold" fill="#000" text-anchor="start" stroke="#000" stroke-width="0.5" stroke-linejoin="round" textLength="22.2" lengthAdjust="spacingAndGlyphs" >80</text>
<line x1="1012.7" y1="739.5" x2="1023.0" y2="739.5" stroke="#000" stroke-width="4.2"/>
<text x="977.5" y="748.4" font-size="25.5" font-weight="bold" fill="#000" text-anchor="start" stroke="#000" stroke-width="0.5" stroke-linejoin="round" textLength="33.3" lengthAdjust="spacingAndGlyphs" >100</text>
<line x1="1012.7" y1="688.4" x2="1023.0" y2="688.4" stroke="#000" stroke-width="4.2"/>
<text x="977.5" y="697.3" font-size="25.5" font-weight="bold" fill="#000" text-anchor="start" stroke="#000" stroke-width="0.5" stroke-linejoin="round" textLength="33.3" lengthAdjust="spacingAndGlyphs" >120</text>
<line x1="1062.6" y1="992.5" x2="1062.6" y2="1004.0" stroke="#000" stroke-width="4.2"/>
<text x="1018.1" y="1033.6" font-size="27.5" font-weight="bold" fill="#000" text-anchor="start" stroke="#000" stroke-width="0.45" stroke-linejoin="round" textLength="81.5" lengthAdjust="spacingAndGlyphs" >torkinib</text>
<line x1="1142.5" y1="992.5" x2="1142.5" y2="1004.0" stroke="#000" stroke-width="4.2"/>
<text x="1138.8" y="1033.6" font-size="27.6" font-weight="bold" fill="#000" text-anchor="start" stroke="#000" stroke-width="0.45" stroke-linejoin="round" textLength="11.8" lengthAdjust="spacingAndGlyphs" >1</text>
<line x1="1222.4" y1="992.5" x2="1222.4" y2="1004.0" stroke="#000" stroke-width="4.2"/>
<text x="1215.5" y="1033.6" font-size="27.6" font-weight="bold" fill="#000" text-anchor="start" stroke="#000" stroke-width="0.45" stroke-linejoin="round" textLength="11.8" lengthAdjust="spacingAndGlyphs" >2</text>
<line x1="1302.3" y1="992.5" x2="1302.3" y2="1004.0" stroke="#000" stroke-width="4.2"/>
<text x="1296.6" y="1033.6" font-size="27.6" font-weight="bold" fill="#000" text-anchor="start" stroke="#000" stroke-width="0.45" stroke-linejoin="round" textLength="11.8" lengthAdjust="spacingAndGlyphs" >3</text>
<line x1="1382.2" y1="992.5" x2="1382.2" y2="1004.0" stroke="#000" stroke-width="4.2"/>
<text x="1375.7" y="1033.6" font-size="27.6" font-weight="bold" fill="#000" text-anchor="start" stroke="#000" stroke-width="0.45" stroke-linejoin="round" textLength="11.8" lengthAdjust="spacingAndGlyphs" >4</text>
<line x1="1462.1" y1="992.5" x2="1462.1" y2="1004.0" stroke="#000" stroke-width="4.2"/>
<text x="1456.4" y="1033.6" font-size="27.6" font-weight="bold" fill="#000" text-anchor="start" stroke="#000" stroke-width="0.45" stroke-linejoin="round" textLength="11.8" lengthAdjust="spacingAndGlyphs" >5</text>
<line x1="1542.0" y1="992.5" x2="1542.0" y2="1004.0" stroke="#000" stroke-width="4.2"/>
<text x="1537.5" y="1033.6" font-size="27.6" font-weight="bold" fill="#000" text-anchor="start" stroke="#000" stroke-width="0.45" stroke-linejoin="round" textLength="11.8" lengthAdjust="spacingAndGlyphs" >6</text>
<line x1="1621.9" y1="992.5" x2="1621.9" y2="1004.0" stroke="#000" stroke-width="4.2"/>
<text x="1617.4" y="1033.6" font-size="27.6" font-weight="bold" fill="#000" text-anchor="start" stroke="#000" stroke-width="0.45" stroke-linejoin="round" textLength="11.8" lengthAdjust="spacingAndGlyphs" >7</text>
<line x1="1034.8" y1="723.7" x2="1049.9" y2="723.7" stroke="#1c1c1c" stroke-width="2.3"/>
<text x="1037.9" y="724.0" font-size="18.2" font-weight="200" fill="#2e2e2e" text-anchor="start" stroke="#2e2e2e" stroke-width="0.55" stroke-linejoin="round" textLength="8.2" lengthAdjust="spacingAndGlyphs" font-family="DejaVu Sans, Liberation Sans, sans-serif">*</text>
<line x1="1033.0" y1="701.1" x2="1062.6" y2="701.1" stroke="#1c1c1c" stroke-width="2.3"/>
<text x="1032.6" y="699.1" font-size="18.2" font-weight="200" fill="#2e2e2e" text-anchor="start" stroke="#2e2e2e" stroke-width="0.55" stroke-linejoin="round" textLength="32.8" lengthAdjust="spacingAndGlyphs" font-family="DejaVu Sans, Liberation Sans, sans-serif">****</text>
<line x1="1033.0" y1="673.5" x2="1077.7" y2="673.5" stroke="#1c1c1c" stroke-width="2.3"/>
<text x="1039.9" y="672.0" font-size="18.2" font-weight="200" fill="#2e2e2e" text-anchor="start" stroke="#2e2e2e" stroke-width="0.55" stroke-linejoin="round" textLength="32.8" lengthAdjust="spacingAndGlyphs" font-family="DejaVu Sans, Liberation Sans, sans-serif">****</text>
<line x1="1034.4" y1="647.6" x2="1093.5" y2="647.6" stroke="#1c1c1c" stroke-width="2.3"/>
<text x="1048.2" y="647.9" font-size="18.2" font-weight="200" fill="#2e2e2e" text-anchor="start" stroke="#2e2e2e" stroke-width="0.55" stroke-linejoin="round" textLength="32.8" lengthAdjust="spacingAndGlyphs" font-family="DejaVu Sans, Liberation Sans, sans-serif">****</text>
<line x1="1113.4" y1="720.7" x2="1162.3" y2="720.7" stroke="#1c1c1c" stroke-width="2.3"/>
<text x="1125.7" y="719.0" font-size="18.2" font-weight="200" fill="#2e2e2e" text-anchor="start" stroke="#2e2e2e" stroke-width="0.55" stroke-linejoin="round" textLength="24.6" lengthAdjust="spacingAndGlyphs" font-family="DejaVu Sans, Liberation Sans, sans-serif">***</text>
<line x1="1115.6" y1="694.8" x2="1177.0" y2="694.8" stroke="#1c1c1c" stroke-width="2.3"/>
<text x="1140.6" y="695.3" font-size="18.2" font-weight="200" fill="#2e2e2e" text-anchor="start" stroke="#2e2e2e" stroke-width="0.55" stroke-linejoin="round" textLength="8.2" lengthAdjust="spacingAndGlyphs" font-family="DejaVu Sans, Liberation Sans, sans-serif">*</text>
<line x1="1275.2" y1="722.5" x2="1290.6" y2="722.5" stroke="#1c1c1c" stroke-width="2.3"/>
<text x="1278.3" y="723.5" font-size="18.2" font-weight="200" fill="#2e2e2e" text-anchor="start" stroke="#2e2e2e" stroke-width="0.55" stroke-linejoin="round" textLength="8.2" lengthAdjust="spacingAndGlyphs" font-family="DejaVu Sans, Liberation Sans, sans-serif">*</text>
<line x1="1273.4" y1="699.5" x2="1303.0" y2="699.5" stroke="#1c1c1c" stroke-width="2.3"/>
<text x="1272.8" y="698.0" font-size="18.2" font-weight="200" fill="#2e2e2e" text-anchor="start" stroke="#2e2e2e" stroke-width="0.55" stroke-linejoin="round" textLength="32.8" lengthAdjust="spacingAndGlyphs" font-family="DejaVu Sans, Liberation Sans, sans-serif">****</text>
<line x1="1273.6" y1="671.7" x2="1318.6" y2="671.7" stroke="#1c1c1c" stroke-width="2.3"/>
<text x="1280.3" y="670.5" font-size="18.2" font-weight="200" fill="#2e2e2e" text-anchor="start" stroke="#2e2e2e" stroke-width="0.55" stroke-linejoin="round" textLength="32.8" lengthAdjust="spacingAndGlyphs" font-family="DejaVu Sans, Liberation Sans, sans-serif">****</text>
<line x1="1274.8" y1="646.0" x2="1333.5" y2="646.0" stroke="#1c1c1c" stroke-width="2.3"/>
<text x="1288.6" y="647.2" font-size="18.2" font-weight="200" fill="#2e2e2e" text-anchor="start" stroke="#2e2e2e" stroke-width="0.55" stroke-linejoin="round" textLength="32.8" lengthAdjust="spacingAndGlyphs" font-family="DejaVu Sans, Liberation Sans, sans-serif">****</text>
<line x1="1351.6" y1="725.5" x2="1366.3" y2="725.5" stroke="#1c1c1c" stroke-width="2.3"/>
<text x="1355.0" y="725.1" font-size="18.2" font-weight="200" fill="#2e2e2e" text-anchor="start" stroke="#2e2e2e" stroke-width="0.55" stroke-linejoin="round" textLength="8.2" lengthAdjust="spacingAndGlyphs" font-family="DejaVu Sans, Liberation Sans, sans-serif">*</text>
<line x1="1351.6" y1="703.3" x2="1400.6" y2="703.3" stroke="#1c1c1c" stroke-width="2.3"/>
<text x="1367.1" y="703.6" font-size="18.2" font-weight="200" fill="#2e2e2e" text-anchor="start" stroke="#2e2e2e" stroke-width="0.55" stroke-linejoin="round" textLength="16.4" lengthAdjust="spacingAndGlyphs" font-family="DejaVu Sans, Liberation Sans, sans-serif">**</text>
<line x1="1432.9" y1="716.4" x2="1490.4" y2="716.4" stroke="#1c1c1c" stroke-width="2.3"/>
<text x="1457.7" y="716.7" font-size="18.2" font-weight="200" fill="#2e2e2e" text-anchor="start" stroke="#2e2e2e" stroke-width="0.55" stroke-linejoin="round" textLength="8.2" lengthAdjust="spacingAndGlyphs" font-family="DejaVu Sans, Liberation Sans, sans-serif">*</text>
<line x1="1590.9" y1="723.0" x2="1620.9" y2="723.0" stroke="#1c1c1c" stroke-width="2.3"/>
<text x="1590.3" y="724.4" font-size="18.2" font-weight="200" fill="#2e2e2e" text-anchor="start" stroke="#2e2e2e" stroke-width="0.55" stroke-linejoin="round" textLength="32.8" lengthAdjust="spacingAndGlyphs" font-family="DejaVu Sans, Liberation Sans, sans-serif">****</text>
<line x1="1591.6" y1="696.1" x2="1636.5" y2="696.1" stroke="#1c1c1c" stroke-width="2.3"/>
<text x="1598.2" y="693.5" font-size="18.2" font-weight="200" fill="#2e2e2e" text-anchor="start" stroke="#2e2e2e" stroke-width="0.55" stroke-linejoin="round" textLength="32.8" lengthAdjust="spacingAndGlyphs" font-family="DejaVu Sans, Liberation Sans, sans-serif">****</text>
<line x1="1592.5" y1="670.4" x2="1650.7" y2="670.4" stroke="#1c1c1c" stroke-width="2.3"/>
<text x="1606.1" y="670.9" font-size="18.2" font-weight="200" fill="#2e2e2e" text-anchor="start" stroke="#2e2e2e" stroke-width="0.55" stroke-linejoin="round" textLength="32.8" lengthAdjust="spacingAndGlyphs" font-family="DejaVu Sans, Liberation Sans, sans-serif">****</text>
<text transform="translate(965.7 954.3) rotate(-90)" font-size="20.5" font-weight="bold" fill="#000" stroke="#000" stroke-width="0.5" textLength="222.9" lengthAdjust="spacingAndGlyphs">RFU (% of control)</text>
<rect x="1683.8" y="694.7" width="29.8" height="18.2" fill="#000000" stroke="#000" stroke-width="3"/>
<text x="1744.8" y="713.1" font-size="26" font-weight="normal" fill="#1a1a1a" text-anchor="start" stroke="#1a1a1a" stroke-width="0.25" stroke-linejoin="round" textLength="11.7" lengthAdjust="spacingAndGlyphs" >0</text>
<rect x="1683.8" y="734.3" width="29.8" height="18.2" fill="#666666" stroke="#000" stroke-width="3"/>
<text x="1734.2" y="752.7" font-size="26" font-weight="normal" fill="#1a1a1a" text-anchor="start" stroke="#1a1a1a" stroke-width="0.25" stroke-linejoin="round" textLength="23.3" lengthAdjust="spacingAndGlyphs" >10</text>
<rect x="1683.8" y="773.9" width="29.8" height="18.2" fill="#a5a5a8" stroke="#000" stroke-width="3"/>
<text x="1734.2" y="792.3" font-size="26" font-weight="normal" fill="#1a1a1a" text-anchor="start" stroke="#1a1a1a" stroke-width="0.25" stroke-linejoin="round" textLength="23.3" lengthAdjust="spacingAndGlyphs" >50</text>
<rect x="1683.8" y="813.5" width="29.8" height="18.2" fill="#d3d3d3" stroke="#000" stroke-width="3"/>
<text x="1734.2" y="831.9" font-size="26" font-weight="normal" fill="#1a1a1a" text-anchor="start" stroke="#1a1a1a" stroke-width="0.25" stroke-linejoin="round" textLength="23.3" lengthAdjust="spacingAndGlyphs" >80</text>
<rect x="1683.8" y="853.1" width="29.8" height="18.2" fill="#ffffff" stroke="#000" stroke-width="3"/>
<text x="1722.5" y="871.5" font-size="26" font-weight="normal" fill="#1a1a1a" text-anchor="start" stroke="#1a1a1a" stroke-width="0.25" stroke-linejoin="round" textLength="35.0" lengthAdjust="spacingAndGlyphs" >100</text>
<text x="1707.8" y="678.0" font-size="30.5" font-weight="normal" fill="#1a1a1a" text-anchor="start" stroke="#1a1a1a" stroke-width="0.25" stroke-linejoin="round" >[</text>
<text x="1717.4" y="678.0" font-size="32" font-weight="normal" fill="#1a1a1a" text-anchor="start" font-family="Liberation Serif, DejaVu Serif, serif">μ</text>
<text x="1733.4" y="678.0" font-size="30.5" font-weight="normal" fill="#1a1a1a" text-anchor="start" stroke="#1a1a1a" stroke-width="0.25" stroke-linejoin="round" textLength="28.6" lengthAdjust="spacingAndGlyphs" >M</text>
<text x="1762.1" y="678.0" font-size="30.5" font-weight="normal" fill="#1a1a1a" text-anchor="start" stroke="#1a1a1a" stroke-width="0.25" stroke-linejoin="round" >]</text>
<line x1="166.4" y1="1287.0" x2="166.4" y2="1282.7" stroke="#000" stroke-width="4.2"/>
<line x1="155.8" y1="1282.7" x2="177.0" y2="1282.7" stroke="#000" stroke-width="4.4"/>
<rect x="149.4" y="1289.0" width="34.0" height="257.8" fill="#000000" stroke="#000" stroke-width="4"/>
<line x1="217.5" y1="1312.2" x2="217.5" y2="1308.0" stroke="#000" stroke-width="4.2"/>
<line x1="206.9" y1="1308.0" x2="228.1" y2="1308.0" stroke="#000" stroke-width="4.4"/>
<rect x="200.5" y="1314.2" width="34.0" height="232.6" fill="#343434" stroke="#000" stroke-width="4"/>
<line x1="268.6" y1="1338.6" x2="268.6" y2="1333.6" stroke="#000" stroke-width="4.2"/>
<line x1="258.0" y1="1333.6" x2="279.2" y2="1333.6" stroke="#000" stroke-width="4.4"/>
<rect x="251.6" y="1340.6" width="34.0" height="206.2" fill="#858585" stroke="#000" stroke-width="4"/>
<line x1="319.7" y1="1361.4" x2="319.7" y2="1355.9" stroke="#000" stroke-width="4.2"/>
<line x1="309.1" y1="1355.9" x2="330.3" y2="1355.9" stroke="#000" stroke-width="4.4"/>
<rect x="302.7" y="1363.4" width="34.0" height="183.4" fill="#d0d0d0" stroke="#000" stroke-width="4"/>
<line x1="370.8" y1="1394.1" x2="370.8" y2="1385.0" stroke="#000" stroke-width="4.2"/>
<line x1="360.2" y1="1385.0" x2="381.4" y2="1385.0" stroke="#000" stroke-width="4.4"/>
<rect x="353.8" y="1396.1" width="34.0" height="150.7" fill="#ffffff" stroke="#000" stroke-width="4"/>
<line x1="141.2" y1="1235.1" x2="141.2" y2="1549.0" stroke="#000" stroke-width="4.1"/>
<line x1="126.4" y1="1546.8" x2="399.3" y2="1546.8" stroke="#000" stroke-width="4.4"/>
<text x="107.4" y="1557.7" font-size="31.2" font-weight="bold" fill="#000" text-anchor="start" stroke="#000" stroke-width="0.3" stroke-linejoin="round" textLength="17.0" lengthAdjust="spacingAndGlyphs" >0</text>
<line x1="126.4" y1="1495.9" x2="141.2" y2="1495.9" stroke="#000" stroke-width="4.2"/>
<text x="90.4" y="1506.8" font-size="31.2" font-weight="bold" fill="#000" text-anchor="start" stroke="#000" stroke-width="0.3" stroke-linejoin="round" textLength="34.0" lengthAdjust="spacingAndGlyphs" >20</text>
<line x1="126.4" y1="1443.3" x2="141.2" y2="1443.3" stroke="#000" stroke-width="4.2"/>
<text x="90.4" y="1454.2" font-size="31.2" font-weight="bold" fill="#000" text-anchor="start" stroke="#000" stroke-width="0.3" stroke-linejoin="round" textLength="34.0" lengthAdjust="spacingAndGlyphs" >40</text>
<line x1="126.4" y1="1392.9" x2="141.2" y2="1392.9" stroke="#000" stroke-width="4.2"/>
<text x="90.4" y="1403.8" font-size="31.2" font-weight="bold" fill="#000" text-anchor="start" stroke="#000" stroke-width="0.3" stroke-linejoin="round" textLength="34.0" lengthAdjust="spacingAndGlyphs" >60</text>
<line x1="126.4" y1="1340.8" x2="141.2" y2="1340.8" stroke="#000" stroke-width="4.2"/>
<text x="90.4" y="1351.7" font-size="31.2" font-weight="bold" fill="#000" text-anchor="start" stroke="#000" stroke-width="0.3" stroke-linejoin="round" textLength="34.0" lengthAdjust="spacingAndGlyphs" >80</text>
<line x1="126.4" y1="1289.0" x2="141.2" y2="1289.0" stroke="#000" stroke-width="4.2"/>
<text x="73.4" y="1299.9" font-size="31.2" font-weight="bold" fill="#000" text-anchor="start" stroke="#000" stroke-width="0.3" stroke-linejoin="round" textLength="51.0" lengthAdjust="spacingAndGlyphs" >100</text>
<line x1="126.4" y1="1237.2" x2="141.2" y2="1237.2" stroke="#000" stroke-width="4.2"/>
<text x="73.4" y="1248.1" font-size="31.2" font-weight="bold" fill="#000" text-anchor="start" stroke="#000" stroke-width="0.3" stroke-linejoin="round" textLength="51.0" lengthAdjust="spacingAndGlyphs" >120</text>
<line x1="166.1" y1="1546.8" x2="166.1" y2="1561.1" stroke="#000" stroke-width="4.4"/>
<text x="157.9" y="1589.0" font-size="30.3" font-weight="bold" fill="#000" text-anchor="start" stroke="#000" stroke-width="0.3" stroke-linejoin="round" textLength="16.4" lengthAdjust="spacingAndGlyphs" >0</text>
<line x1="217.2" y1="1546.8" x2="217.2" y2="1561.1" stroke="#000" stroke-width="4.4"/>
<text x="200.8" y="1589.0" font-size="30.3" font-weight="bold" fill="#000" text-anchor="start" stroke="#000" stroke-width="0.3" stroke-linejoin="round" textLength="32.8" lengthAdjust="spacingAndGlyphs" >10</text>
<line x1="268.3" y1="1546.8" x2="268.3" y2="1561.1" stroke="#000" stroke-width="4.4"/>
<text x="251.9" y="1589.0" font-size="30.3" font-weight="bold" fill="#000" text-anchor="start" stroke="#000" stroke-width="0.3" stroke-linejoin="round" textLength="32.8" lengthAdjust="spacingAndGlyphs" >50</text>
<line x1="319.4" y1="1546.8" x2="319.4" y2="1561.1" stroke="#000" stroke-width="4.4"/>
<text x="303.0" y="1589.0" font-size="30.3" font-weight="bold" fill="#000" text-anchor="start" stroke="#000" stroke-width="0.3" stroke-linejoin="round" textLength="32.8" lengthAdjust="spacingAndGlyphs" >80</text>
<line x1="370.5" y1="1546.8" x2="370.5" y2="1561.1" stroke="#000" stroke-width="4.4"/>
<text x="345.9" y="1589.0" font-size="30.3" font-weight="bold" fill="#000" text-anchor="start" stroke="#000" stroke-width="0.3" stroke-linejoin="round" textLength="49.2" lengthAdjust="spacingAndGlyphs" >100</text>
<line x1="166.4" y1="1268.7" x2="214.3" y2="1268.7" stroke="#1c1c1c" stroke-width="2.3"/>
<text x="186.2" y="1270.3" font-size="24" font-weight="200" fill="#2e2e2e" text-anchor="start" stroke="#2e2e2e" stroke-width="0.7" stroke-linejoin="round" textLength="13.6" lengthAdjust="spacingAndGlyphs" font-family="DejaVu Sans, Liberation Sans, sans-serif">*</text>
<line x1="166.4" y1="1243.4" x2="268.7" y2="1243.4" stroke="#1c1c1c" stroke-width="2.3"/>
<text x="196.4" y="1245.5" font-size="24" font-weight="200" fill="#2e2e2e" text-anchor="start" stroke="#2e2e2e" stroke-width="0.7" stroke-linejoin="round" textLength="40.8" lengthAdjust="spacingAndGlyphs" font-family="DejaVu Sans, Liberation Sans, sans-serif">***</text>
<line x1="166.4" y1="1213.1" x2="319.6" y2="1213.1" stroke="#1c1c1c" stroke-width="2.3"/>
<text x="215.7" y="1214.0" font-size="24" font-weight="200" fill="#2e2e2e" text-anchor="start" stroke="#2e2e2e" stroke-width="0.7" stroke-linejoin="round" textLength="54.4" lengthAdjust="spacingAndGlyphs" font-family="DejaVu Sans, Liberation Sans, sans-serif">****</text>
<line x1="166.4" y1="1183.8" x2="371.2" y2="1183.8" stroke="#1c1c1c" stroke-width="2.3"/>
<text x="242.7" y="1184.7" font-size="24" font-weight="200" fill="#2e2e2e" text-anchor="start" stroke="#2e2e2e" stroke-width="0.7" stroke-linejoin="round" textLength="54.4" lengthAdjust="spacingAndGlyphs" font-family="DejaVu Sans, Liberation Sans, sans-serif">****</text>
<text transform="translate(51.1 1509.2) rotate(-90)" font-size="31" font-weight="bold" fill="#000" stroke="#000" stroke-width="0.3" textLength="198.7" lengthAdjust="spacingAndGlyphs">AU (% of ctrl)</text>
<text x="119.0" y="1635.7" font-size="29" font-weight="bold" fill="#000" text-anchor="start" textLength="219.0" lengthAdjust="spacingAndGlyphs" >Concentration</text>
<text x="348.7" y="1635.7" font-size="29" font-weight="bold" fill="#000" text-anchor="start" stroke="#000" stroke-width="0.7" stroke-linejoin="round" >[</text>
<text x="361.0" y="1635.7" font-size="26.5" font-weight="normal" fill="#000" text-anchor="start" font-family="Liberation Serif, DejaVu Serif, serif">μ</text>
<text x="377.4" y="1635.7" font-size="29.3" font-weight="bold" fill="#000" text-anchor="start" stroke="#000" stroke-width="0.7" stroke-linejoin="round" textLength="35.5" lengthAdjust="spacingAndGlyphs" >M]</text>
<line x1="1056.9" y1="1292.0" x2="1056.9" y2="1288.4" stroke="#000" stroke-width="4.2"/>
<line x1="1046.3" y1="1288.4" x2="1067.5" y2="1288.4" stroke="#000" stroke-width="4.4"/>
<rect x="1039.9" y="1294.0" width="34.0" height="258.6" fill="#000000" stroke="#000" stroke-width="4"/>
<line x1="1108.0" y1="1350.9" x2="1108.0" y2="1341.3" stroke="#000" stroke-width="4.2"/>
<line x1="1097.4" y1="1341.3" x2="1118.6" y2="1341.3" stroke="#000" stroke-width="4.4"/>
<rect x="1091.0" y="1352.9" width="34.0" height="199.7" fill="#343434" stroke="#000" stroke-width="4"/>
<line x1="1159.1" y1="1375.0" x2="1159.1" y2="1369.1" stroke="#000" stroke-width="4.2"/>
<line x1="1148.5" y1="1369.1" x2="1169.7" y2="1369.1" stroke="#000" stroke-width="4.4"/>
<rect x="1142.1" y="1377.0" width="34.0" height="175.6" fill="#858585" stroke="#000" stroke-width="4"/>
<line x1="1210.2" y1="1419.2" x2="1210.2" y2="1413.9" stroke="#000" stroke-width="4.2"/>
<line x1="1199.6" y1="1413.9" x2="1220.8" y2="1413.9" stroke="#000" stroke-width="4.4"/>
<rect x="1193.2" y="1421.2" width="34.0" height="131.4" fill="#d0d0d0" stroke="#000" stroke-width="4"/>
<line x1="1261.3" y1="1444.2" x2="1261.3" y2="1441.2" stroke="#000" stroke-width="4.2"/>
<line x1="1250.7" y1="1441.2" x2="1271.9" y2="1441.2" stroke="#000" stroke-width="4.4"/>
<rect x="1244.3" y="1446.2" width="34.0" height="106.4" fill="#ffffff" stroke="#000" stroke-width="4"/>
<line x1="1030.8" y1="1240.5" x2="1030.8" y2="1554.8" stroke="#000" stroke-width="4.1"/>
<line x1="1016.0" y1="1552.6" x2="1289.9" y2="1552.6" stroke="#000" stroke-width="4.4"/>
<text x="997.6" y="1563.5" font-size="31.2" font-weight="bold" fill="#000" text-anchor="start" stroke="#000" stroke-width="0.3" stroke-linejoin="round" textLength="17.0" lengthAdjust="spacingAndGlyphs" >0</text>
<line x1="1016.0" y1="1501.1" x2="1030.8" y2="1501.1" stroke="#000" stroke-width="4.2"/>
<text x="980.6" y="1512.0" font-size="31.2" font-weight="bold" fill="#000" text-anchor="start" stroke="#000" stroke-width="0.3" stroke-linejoin="round" textLength="34.0" lengthAdjust="spacingAndGlyphs" >20</text>
<line x1="1016.0" y1="1448.8" x2="1030.8" y2="1448.8" stroke="#000" stroke-width="4.2"/>
<text x="980.6" y="1459.7" font-size="31.2" font-weight="bold" fill="#000" text-anchor="start" stroke="#000" stroke-width="0.3" stroke-linejoin="round" textLength="34.0" lengthAdjust="spacingAndGlyphs" >40</text>
<line x1="1016.0" y1="1398.0" x2="1030.8" y2="1398.0" stroke="#000" stroke-width="4.2"/>
<text x="980.6" y="1408.9" font-size="31.2" font-weight="bold" fill="#000" text-anchor="start" stroke="#000" stroke-width="0.3" stroke-linejoin="round" textLength="34.0" lengthAdjust="spacingAndGlyphs" >60</text>
<line x1="1016.0" y1="1346.5" x2="1030.8" y2="1346.5" stroke="#000" stroke-width="4.2"/>
<text x="980.6" y="1357.4" font-size="31.2" font-weight="bold" fill="#000" text-anchor="start" stroke="#000" stroke-width="0.3" stroke-linejoin="round" textLength="34.0" lengthAdjust="spacingAndGlyphs" >80</text>
<line x1="1016.0" y1="1294.6" x2="1030.8" y2="1294.6" stroke="#000" stroke-width="4.2"/>
<text x="963.6" y="1305.5" font-size="31.2" font-weight="bold" fill="#000" text-anchor="start" stroke="#000" stroke-width="0.3" stroke-linejoin="round" textLength="51.0" lengthAdjust="spacingAndGlyphs" >100</text>
<line x1="1016.0" y1="1242.6" x2="1030.8" y2="1242.6" stroke="#000" stroke-width="4.2"/>
<text x="963.6" y="1253.5" font-size="31.2" font-weight="bold" fill="#000" text-anchor="start" stroke="#000" stroke-width="0.3" stroke-linejoin="round" textLength="51.0" lengthAdjust="spacingAndGlyphs" >120</text>
<line x1="1056.6" y1="1552.6" x2="1056.6" y2="1566.9" stroke="#000" stroke-width="4.4"/>
<text x="1048.4" y="1594.6" font-size="30.3" font-weight="bold" fill="#000" text-anchor="start" stroke="#000" stroke-width="0.3" stroke-linejoin="round" textLength="16.4" lengthAdjust="spacingAndGlyphs" >0</text>
<line x1="1107.7" y1="1552.6" x2="1107.7" y2="1566.9" stroke="#000" stroke-width="4.4"/>
<text x="1091.3" y="1594.6" font-size="30.3" font-weight="bold" fill="#000" text-anchor="start" stroke="#000" stroke-width="0.3" stroke-linejoin="round" textLength="32.8" lengthAdjust="spacingAndGlyphs" >10</text>
<line x1="1158.8" y1="1552.6" x2="1158.8" y2="1566.9" stroke="#000" stroke-width="4.4"/>
<text x="1142.4" y="1594.6" font-size="30.3" font-weight="bold" fill="#000" text-anchor="start" stroke="#000" stroke-width="0.3" stroke-linejoin="round" textLength="32.8" lengthAdjust="spacingAndGlyphs" >50</text>
<line x1="1209.9" y1="1552.6" x2="1209.9" y2="1566.9" stroke="#000" stroke-width="4.4"/>
<text x="1193.5" y="1594.6" font-size="30.3" font-weight="bold" fill="#000" text-anchor="start" stroke="#000" stroke-width="0.3" stroke-linejoin="round" textLength="32.8" lengthAdjust="spacingAndGlyphs" >80</text>
<line x1="1261.0" y1="1552.6" x2="1261.0" y2="1566.9" stroke="#000" stroke-width="4.4"/>
<text x="1236.4" y="1594.6" font-size="30.3" font-weight="bold" fill="#000" text-anchor="start" stroke="#000" stroke-width="0.3" stroke-linejoin="round" textLength="49.2" lengthAdjust="spacingAndGlyphs" >100</text>
<line x1="1056.9" y1="1275.7" x2="1104.4" y2="1275.7" stroke="#1c1c1c" stroke-width="2.3"/>
<text x="1062.1" y="1277.3" font-size="24" font-weight="200" fill="#2e2e2e" text-anchor="start" stroke="#2e2e2e" stroke-width="0.7" stroke-linejoin="round" textLength="40.8" lengthAdjust="spacingAndGlyphs" font-family="DejaVu Sans, Liberation Sans, sans-serif">***</text>
<line x1="1056.9" y1="1249.9" x2="1158.8" y2="1249.9" stroke="#1c1c1c" stroke-width="2.3"/>
<text x="1080.6" y="1251.5" font-size="24" font-weight="200" fill="#2e2e2e" text-anchor="start" stroke="#2e2e2e" stroke-width="0.7" stroke-linejoin="round" textLength="54.4" lengthAdjust="spacingAndGlyphs" font-family="DejaVu Sans, Liberation Sans, sans-serif">****</text>
<line x1="1056.9" y1="1219.6" x2="1210.4" y2="1219.6" stroke="#1c1c1c" stroke-width="2.3"/>
<text x="1106.2" y="1220.0" font-size="24" font-weight="200" fill="#2e2e2e" text-anchor="start" stroke="#2e2e2e" stroke-width="0.7" stroke-linejoin="round" textLength="54.4" lengthAdjust="spacingAndGlyphs" font-family="DejaVu Sans, Liberation Sans, sans-serif">****</text>
<line x1="1056.9" y1="1190.3" x2="1261.3" y2="1190.3" stroke="#1c1c1c" stroke-width="2.3"/>
<text x="1132.8" y="1191.4" font-size="24" font-weight="200" fill="#2e2e2e" text-anchor="start" stroke="#2e2e2e" stroke-width="0.7" stroke-linejoin="round" textLength="54.4" lengthAdjust="spacingAndGlyphs" font-family="DejaVu Sans, Liberation Sans, sans-serif">****</text>
<text transform="translate(940.9 1513.5) rotate(-90)" font-size="31" font-weight="bold" fill="#000" stroke="#000" stroke-width="0.3" textLength="215.3" lengthAdjust="spacingAndGlyphs">RFU (% of ctrl)</text>
<text x="1009.0" y="1642.0" font-size="29" font-weight="bold" fill="#000" text-anchor="start" textLength="219.0" lengthAdjust="spacingAndGlyphs" >Concentration</text>
<text x="1238.7" y="1642.0" font-size="29" font-weight="bold" fill="#000" text-anchor="start" stroke="#000" stroke-width="0.7" stroke-linejoin="round" >[</text>
<text x="1251.0" y="1642.0" font-size="26.5" font-weight="normal" fill="#000" text-anchor="start" font-family="Liberation Serif, DejaVu Serif, serif">μ</text>
<text x="1267.4" y="1642.0" font-size="29.3" font-weight="bold" fill="#000" text-anchor="start" stroke="#000" stroke-width="0.7" stroke-linejoin="round" textLength="35.5" lengthAdjust="spacingAndGlyphs" >M]</text>
<text x="276.5" y="27.3" font-size="29.6" font-weight="bold" fill="#222" text-anchor="start" textLength="262.5" lengthAdjust="spacingAndGlyphs" >CRYSTAL VIOLET</text>
<text x="354.6" y="70.0" font-size="30" font-weight="bold" fill="#000" text-anchor="start" textLength="101.8" lengthAdjust="spacingAndGlyphs" >DIS-BJ</text>
<text x="1242.5" y="27.6" font-size="29.6" font-weight="bold" fill="#222" text-anchor="start" textLength="182.0" lengthAdjust="spacingAndGlyphs" >RESAZURIN</text>
<text x="1285.9" y="70.0" font-size="30" font-weight="bold" fill="#000" text-anchor="start" textLength="101.8" lengthAdjust="spacingAndGlyphs" >DIS-BJ</text>
<text x="343.4" y="602.9" font-size="29.5" font-weight="bold" fill="#000" text-anchor="start" stroke="#000" stroke-width="0.5" stroke-linejoin="round" textLength="108.5" lengthAdjust="spacingAndGlyphs" >IR-RPE-1</text>
<text x="1287.4" y="602.9" font-size="29.5" font-weight="bold" fill="#000" text-anchor="start" stroke="#000" stroke-width="0.5" stroke-linejoin="round" textLength="108.5" lengthAdjust="spacingAndGlyphs" >IR-RPE-1</text>
<text x="211.0" y="1146.1" font-size="28.8" font-weight="bold" fill="#000" text-anchor="start" textLength="129.5" lengthAdjust="spacingAndGlyphs" >TMZ-U87</text>
<text x="1095.6" y="1151.8" font-size="28.8" font-weight="bold" fill="#000" text-anchor="start" textLength="129.8" lengthAdjust="spacingAndGlyphs" >TMZ-U87</text>
<text x="3.4" y="24.3" font-size="32.5" font-weight="bold" fill="#000" text-anchor="start" >A</text>
<text x="951.0" y="24.6" font-size="32.5" font-weight="bold" fill="#000" text-anchor="start" >B</text>
<text x="1.9" y="600.3" font-size="32.5" font-weight="bold" fill="#000" text-anchor="start" >C</text>
<text x="950.6" y="600.0" font-size="32.5" font-weight="bold" fill="#000" text-anchor="start" >D</text>
<text x="0.6" y="1143.6" font-size="32.5" font-weight="bold" fill="#000" text-anchor="start" >E</text>
<text x="953.5" y="1142.8" font-size="32.5" font-weight="bold" fill="#000" text-anchor="start" >F</text>
</svg>
</body></html>
